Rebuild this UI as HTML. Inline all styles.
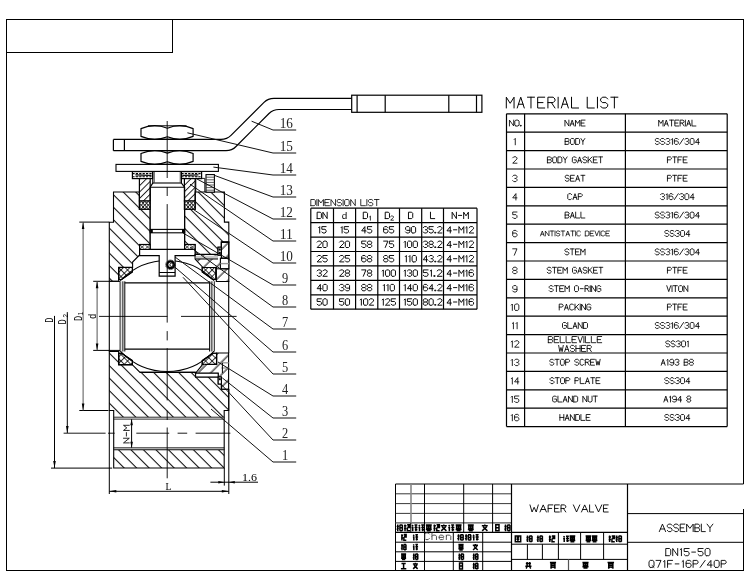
<!DOCTYPE html><html><head><meta charset="utf-8"><style>html,body{margin:0;padding:0;background:#fff;}svg{display:block;will-change:transform}</style></head><body>
<svg width="750" height="584" viewBox="0 0 750 584">
<defs>
<pattern id="hb" patternUnits="userSpaceOnUse" width="8.84" height="20" patternTransform="rotate(-45)"><line x1="4.38" y1="0" x2="4.38" y2="20" stroke="#000" stroke-width="1"/></pattern>
<pattern id="hc" patternUnits="userSpaceOnUse" width="8.84" height="20" patternTransform="rotate(45)"><line x1="6" y1="0" x2="6" y2="20" stroke="#000" stroke-width="1"/></pattern>
<pattern id="hf" patternUnits="userSpaceOnUse" width="4.5" height="20" patternTransform="rotate(45)"><line x1="0.5" y1="0" x2="0.5" y2="20" stroke="#000" stroke-width="0.9"/></pattern>
<pattern id="hx1" patternUnits="userSpaceOnUse" width="4.6" height="20" patternTransform="rotate(45)"><line x1="0.5" y1="0" x2="0.5" y2="20" stroke="#000" stroke-width="0.8"/></pattern>
<pattern id="hx2" patternUnits="userSpaceOnUse" width="4.6" height="20" patternTransform="rotate(-45)"><line x1="0.5" y1="0" x2="0.5" y2="20" stroke="#000" stroke-width="0.8"/></pattern>
<pattern id="pk" patternUnits="userSpaceOnUse" width="3.6" height="3" x="139.4" y="201"><circle cx="1.8" cy="1.5" r="1.25" fill="none" stroke="#000" stroke-width="0.8"/></pattern>
</defs>
<rect x="0" y="0" width="750" height="584" fill="#fff"/>
<g shape-rendering="crispEdges">
<path d="M743.5,484.2 L743.5,19.5 L6.5,19.5 L6.5,570 L743.5,570 L743.5,509" stroke="#000" stroke-width="1" fill="none" />
<path d="M6.5,52.5 L172.5,52.5 L172.5,19.5" stroke="#000" stroke-width="1" fill="none" />
</g>
<g>
<line x1="395.5" y1="484" x2="743.5" y2="484" stroke="#000" stroke-width="1" />
<line x1="395.5" y1="484" x2="395.5" y2="570" stroke="#000" stroke-width="1" />
<line x1="395.5" y1="493.8" x2="511.5" y2="493.8" stroke="#222" stroke-width="0.9" />
<line x1="395.5" y1="503.6" x2="511.5" y2="503.6" stroke="#222" stroke-width="0.9" />
<line x1="395.5" y1="513.4" x2="511.5" y2="513.4" stroke="#222" stroke-width="0.9" />
<line x1="395.5" y1="522.8" x2="511.5" y2="522.8" stroke="#555" stroke-width="1.2" />
<line x1="395.5" y1="532.4" x2="627.5" y2="532.4" stroke="#000" stroke-width="1.2" />
<line x1="395.5" y1="542.2" x2="511.5" y2="542.2" stroke="#000" stroke-width="1" />
<line x1="395.5" y1="551.8" x2="511.5" y2="551.8" stroke="#000" stroke-width="1" />
<line x1="395.5" y1="561.4" x2="511.5" y2="561.4" stroke="#000" stroke-width="1" />
<line x1="411" y1="484" x2="411" y2="522.8" stroke="#888" stroke-width="1.6" />
<line x1="410.8" y1="522.8" x2="410.8" y2="532.4" stroke="#000" stroke-width="1" />
<line x1="424.5" y1="484" x2="424.5" y2="532.4" stroke="#000" stroke-width="1" />
<line x1="463.7" y1="484" x2="463.7" y2="532.4" stroke="#000" stroke-width="1" />
<line x1="492.6" y1="484" x2="492.6" y2="532.4" stroke="#000" stroke-width="1" />
<line x1="424.5" y1="532.4" x2="424.5" y2="570" stroke="#000" stroke-width="1" />
<line x1="453.3" y1="532.4" x2="453.3" y2="570" stroke="#000" stroke-width="1" />
<line x1="482.7" y1="532.4" x2="482.7" y2="570" stroke="#000" stroke-width="1" />
<line x1="511.5" y1="484" x2="511.5" y2="570" stroke="#000" stroke-width="1.2" />
<line x1="627.5" y1="484" x2="627.5" y2="570" stroke="#000" stroke-width="1.2" />
<line x1="511.5" y1="544.2" x2="627.5" y2="544.2" stroke="#000" stroke-width="1" />
<line x1="511.5" y1="559.4" x2="627.5" y2="559.4" stroke="#000" stroke-width="1" />
<line x1="558.4" y1="532.4" x2="558.4" y2="559.4" stroke="#000" stroke-width="1" />
<line x1="580.6" y1="532.4" x2="580.6" y2="559.4" stroke="#000" stroke-width="1" />
<line x1="603.6" y1="532.4" x2="603.6" y2="559.4" stroke="#000" stroke-width="1" />
<line x1="527.4" y1="544.2" x2="527.4" y2="559.4" stroke="#000" stroke-width="1" />
<line x1="542.4" y1="544.2" x2="542.4" y2="559.4" stroke="#000" stroke-width="1" />
<line x1="568.5" y1="559.4" x2="568.5" y2="570" stroke="#555" stroke-width="1.2" />
<line x1="627.5" y1="513.6" x2="743.5" y2="513.6" stroke="#000" stroke-width="1" />
<line x1="627.5" y1="542.3" x2="743.5" y2="542.3" stroke="#000" stroke-width="1" />
</g>
<path d="M530.00,504.90 L532.07,512.00 L534.15,507.27 L536.22,512.00 L538.29,504.90 M540.01,512.00 L543.21,504.90 L546.41,512.00 M541.13,509.51 L545.29,509.51 M552.87,504.90 L548.13,504.90 L548.13,512.00 M548.13,508.45 L551.68,508.45 M559.33,504.90 L554.59,504.90 L554.59,512.00 L559.33,512.00 M554.59,508.45 L558.14,508.45 M561.04,512.00 L561.04,504.90 L564.60,504.90 L565.78,506.08 L565.78,507.27 L564.60,508.45 L561.04,508.45 M563.41,508.45 L565.78,512.00 M573.37,504.90 L576.56,512.00 L579.76,504.90 M581.48,512.00 L584.68,504.90 L587.88,512.00 M582.60,509.51 L586.76,509.51 M589.60,504.90 L589.60,512.00 L593.63,512.00 M595.34,504.90 L598.54,512.00 L601.74,504.90 M608.20,504.90 L603.46,504.90 L603.46,512.00 L608.20,512.00 M603.46,508.45 L607.02,508.45" stroke="#000" stroke-width="0.9" fill="none" stroke-linejoin="round" stroke-linecap="round"/>
<path d="M659.30,531.60 L662.45,524.10 L665.61,531.60 M660.40,528.98 L664.50,528.98 M672.03,525.35 L670.86,524.10 L668.53,524.10 L667.36,525.35 L667.36,526.60 L668.53,527.85 L670.86,527.85 L672.03,529.10 L672.03,530.35 L670.86,531.60 L668.53,531.60 L667.36,530.35 M678.45,525.35 L677.28,524.10 L674.95,524.10 L673.78,525.35 L673.78,526.60 L674.95,527.85 L677.28,527.85 L678.45,529.10 L678.45,530.35 L677.28,531.60 L674.95,531.60 L673.78,530.35 M684.87,524.10 L680.20,524.10 L680.20,531.60 L684.87,531.60 M680.20,527.85 L683.71,527.85 M686.63,531.60 L686.63,524.10 L689.90,528.35 L693.16,524.10 L693.16,531.60 M694.92,531.60 L694.92,524.10 L698.42,524.10 L699.59,525.35 L699.59,526.60 L698.42,527.85 L694.92,527.85 M698.42,527.85 L699.59,529.10 L699.59,530.35 L698.42,531.60 L694.92,531.60 M701.34,524.10 L701.34,531.60 L705.31,531.60 M707.06,524.10 L709.98,527.85 L712.90,524.10 M709.98,527.85 L709.98,531.60" stroke="#000" stroke-width="0.9" fill="none" stroke-linejoin="round" stroke-linecap="round"/>
<path d="M665.75,555.70 L665.75,548.50 L669.48,548.50 L670.73,549.70 L670.73,554.50 L669.48,555.70 L665.75,555.70 M672.72,555.70 L672.72,548.50 L677.70,555.70 L677.70,548.50 M680.18,549.70 L681.43,548.50 L681.43,555.70 M689.14,548.50 L684.17,548.50 L684.17,551.50 L687.90,551.50 L689.14,552.70 L689.14,554.50 L687.90,555.70 L685.41,555.70 L684.17,554.50 M691.76,552.10 L695.49,552.10 M703.08,548.50 L698.10,548.50 L698.10,551.50 L701.84,551.50 L703.08,552.70 L703.08,554.50 L701.84,555.70 L699.35,555.70 L698.10,554.50 M706.32,555.70 L705.07,554.50 L705.07,549.70 L706.32,548.50 L708.81,548.50 L710.05,549.70 L710.05,554.50 L708.81,555.70 L706.32,555.70" stroke="#000" stroke-width="0.9" fill="none" stroke-linejoin="round" stroke-linecap="round"/>
<path d="M650.25,567.40 L649.00,566.23 L649.00,561.57 L650.25,560.40 L652.76,560.40 L654.01,561.57 L654.01,566.23 L652.76,567.40 L650.25,567.40 M652.13,565.65 L654.01,567.40 M656.02,560.40 L661.03,560.40 L657.90,567.40 M663.54,561.57 L664.79,560.40 L664.79,567.40 M672.56,560.40 L667.55,560.40 L667.55,567.40 M667.55,563.90 L671.31,563.90 M675.19,563.90 L678.95,563.90 M682.09,561.57 L683.34,560.40 L683.34,567.40 M691.11,561.57 L689.86,560.40 L687.35,560.40 L686.10,561.57 L686.10,566.23 L687.35,567.40 L689.86,567.40 L691.11,566.23 L691.11,564.48 L689.86,563.32 L686.10,563.32 M693.11,567.40 L693.11,560.40 L696.87,560.40 L698.13,561.57 L698.13,562.73 L696.87,563.90 L693.11,563.90 M700.13,567.40 L705.15,560.40 M710.91,567.40 L710.91,560.40 L707.15,565.07 L712.16,565.07 M715.42,567.40 L714.17,566.23 L714.17,561.57 L715.42,560.40 L717.93,560.40 L719.18,561.57 L719.18,566.23 L717.93,567.40 L715.42,567.40 M721.19,567.40 L721.19,560.40 L724.95,560.40 L726.20,561.57 L726.20,562.73 L724.95,563.90 L721.19,563.90" stroke="#000" stroke-width="0.9" fill="none" stroke-linejoin="round" stroke-linecap="round"/>
<path d="M429.28,534.02 L428.16,532.90 L425.92,532.90 L424.80,534.02 L424.80,538.48 L425.92,539.60 L428.16,539.60 L429.28,538.48 M431.97,532.90 L431.97,539.60 M431.97,536.25 L433.09,535.13 L435.33,535.13 L436.46,536.25 L436.46,539.60 M439.14,537.37 L443.63,537.37 L443.63,536.25 L442.51,535.13 L440.27,535.13 L439.14,536.25 L439.14,538.48 L440.27,539.60 L442.51,539.60 L443.63,538.93 M446.32,535.13 L446.32,539.60 M446.32,536.25 L447.44,535.13 L449.68,535.13 L450.80,536.25 L450.80,539.60" stroke="#333" stroke-width="0.85" fill="none" stroke-linejoin="round" stroke-linecap="round"/>
<path d="M396.63,526.44 H398.94 M397.75,524.40 V531.20 M396.63,529.50 L398.61,528.14 M399.60,524.94 H402.57 M399.93,524.94 V530.86 M402.37,524.94 V530.86 M399.93,527.80 H402.37 M399.93,530.66 H402.37" stroke="#000" stroke-width="1.5" fill="none" stroke-linecap="butt"/>
<path d="M404.03,525.76 H406.47 M405.02,524.40 V531.20 M404.03,528.48 H406.34 M407.13,524.74 H409.97 V527.46 H407.33 M407.33,527.46 V530.86 H410.17 M407.66,526.10 H409.64" stroke="#000" stroke-width="1.5" fill="none" stroke-linecap="butt"/>
<path d="M411.94,525.08 L413.22,526.10 M411.62,527.46 H413.54 M412.71,527.46 V531.20 M414.50,525.08 H417.38 M415.91,524.40 V531.20 M414.50,527.46 H417.57 M414.82,529.84 H417.38" stroke="#000" stroke-width="1.5" fill="none" stroke-linecap="butt"/>
<path d="M418.74,525.08 L420.02,526.10 M418.42,527.46 H420.34 M419.51,527.46 V531.20 M421.30,525.08 H424.18 M422.71,524.40 V531.20 M421.30,527.46 H424.37 M421.62,529.84 H424.18" stroke="#000" stroke-width="1.5" fill="none" stroke-linecap="butt"/>
<path d="M425.83,524.94 H431.77 M426.82,526.10 H430.78 V528.14 H426.82 Z M428.80,524.94 V530.86 M425.83,529.50 H431.77 M426.82,530.86 H430.78" stroke="#000" stroke-width="1.5" fill="none" stroke-linecap="butt"/>
<path d="M433.43,525.76 H435.87 M434.42,524.40 V531.20 M433.43,528.48 H435.74 M436.53,524.74 H439.37 V527.46 H436.73 M436.73,527.46 V530.86 H439.57 M437.06,526.10 H439.04" stroke="#000" stroke-width="1.5" fill="none" stroke-linecap="butt"/>
<path d="M443.80,524.40 V525.42 M440.83,525.76 H446.77 M442.15,526.78 L443.80,528.48 L445.78,526.78 M441.16,530.86 L443.80,528.48 L446.44,530.86" stroke="#000" stroke-width="1.5" fill="none" stroke-linecap="butt"/>
<path d="M448.56,525.08 L449.88,526.10 M448.23,527.46 H450.21 M449.35,527.46 V531.20 M451.20,525.08 H454.17 M452.65,524.40 V531.20 M451.20,527.46 H454.37 M451.53,529.84 H454.17" stroke="#000" stroke-width="1.5" fill="none" stroke-linecap="butt"/>
<path d="M455.63,524.94 H461.57 M456.62,526.10 H460.58 V528.14 H456.62 Z M458.60,524.94 V530.86 M455.63,529.50 H461.57 M456.62,530.86 H460.58" stroke="#000" stroke-width="1.5" fill="none" stroke-linecap="butt"/>
<path d="M467.83,524.94 H473.77 M468.82,526.10 H472.78 V528.14 H468.82 Z M470.80,524.94 V530.86 M467.83,529.50 H473.77 M468.82,530.86 H472.78" stroke="#000" stroke-width="1.5" fill="none" stroke-linecap="butt"/>
<path d="M484.80,524.40 V525.42 M481.83,525.76 H487.77 M483.15,526.78 L484.80,528.48 L486.78,526.78 M482.16,530.86 L484.80,528.48 L487.44,530.86" stroke="#000" stroke-width="1.5" fill="none" stroke-linecap="butt"/>
<path d="M495.80,524.74 H499.00 V530.86 H495.80 Z M495.80,527.80 H499.00" stroke="#000" stroke-width="1.5" fill="none" stroke-linecap="butt"/>
<path d="M504.42,526.44 H506.66 M505.51,524.40 V531.20 M504.42,529.50 L506.34,528.14 M507.30,524.94 H510.18 M507.62,524.94 V530.86 M509.99,524.94 V530.86 M507.62,527.80 H509.99 M507.62,530.66 H509.99" stroke="#000" stroke-width="1.5" fill="none" stroke-linecap="butt"/>
<path d="M401.08,535.48 H403.15 M401.92,534.20 V540.60 M401.08,538.04 H403.04 M403.71,534.52 H406.12 V537.08 H403.88 M403.88,537.08 V540.28 H406.29 M404.16,535.80 H405.84" stroke="#000" stroke-width="1.5" fill="none" stroke-linecap="butt"/>
<path d="M413.16,534.84 L414.28,535.80 M412.88,537.08 H414.56 M413.83,537.08 V540.60 M415.40,534.84 H417.92 M416.63,534.20 V540.60 M415.40,537.08 H418.09 M415.68,539.32 H417.92" stroke="#000" stroke-width="1.5" fill="none" stroke-linecap="butt"/>
<path d="M401.08,545.82 H403.04 M402.03,543.90 V550.30 M401.08,548.70 L402.76,547.42 M403.60,544.41 H406.12 M403.88,544.41 V549.98 M405.95,544.41 V549.98 M403.88,547.10 H405.95 M403.88,549.79 H405.95" stroke="#000" stroke-width="1.5" fill="none" stroke-linecap="butt"/>
<path d="M413.16,544.54 L414.28,545.50 M412.88,546.78 H414.56 M413.83,546.78 V550.30 M415.40,544.54 H417.92 M416.63,543.90 V550.30 M415.40,546.78 H418.09 M415.68,549.02 H417.92" stroke="#000" stroke-width="1.5" fill="none" stroke-linecap="butt"/>
<path d="M401.08,554.01 H406.12 M401.92,555.10 H405.28 V557.02 H401.92 Z M403.60,554.01 V559.58 M401.08,558.30 H406.12 M401.92,559.58 H405.28" stroke="#000" stroke-width="1.5" fill="none" stroke-linecap="butt"/>
<path d="M412.88,555.42 H414.84 M413.83,553.50 V559.90 M412.88,558.30 L414.56,557.02 M415.40,554.01 H417.92 M415.68,554.01 V559.58 M417.75,554.01 V559.58 M415.68,556.70 H417.75 M415.68,559.39 H417.75" stroke="#000" stroke-width="1.5" fill="none" stroke-linecap="butt"/>
<path d="M401.47,563.44 H405.73 M403.60,563.44 V568.56 M400.91,568.69 H406.29" stroke="#000" stroke-width="1.5" fill="none" stroke-linecap="butt"/>
<path d="M415.40,562.80 V563.76 M412.88,564.08 H417.92 M414.00,565.04 L415.40,566.64 L417.08,565.04 M413.16,568.88 L415.40,566.64 L417.64,568.88" stroke="#000" stroke-width="1.5" fill="none" stroke-linecap="butt"/>
<path d="M457.43,536.12 H459.74 M458.55,534.20 V540.60 M457.43,539.00 L459.41,537.72 M460.40,534.71 H463.37 M460.73,534.71 V540.28 M463.17,534.71 V540.28 M460.73,537.40 H463.17 M460.73,540.09 H463.17" stroke="#000" stroke-width="1.5" fill="none" stroke-linecap="butt"/>
<path d="M465.03,536.12 H467.34 M466.15,534.20 V540.60 M465.03,539.00 L467.01,537.72 M468.00,534.71 H470.97 M468.33,534.71 V540.28 M470.77,534.71 V540.28 M468.33,537.40 H470.77 M468.33,540.09 H470.77" stroke="#000" stroke-width="1.5" fill="none" stroke-linecap="butt"/>
<path d="M472.96,534.84 L474.28,535.80 M472.63,537.08 H474.61 M473.75,537.08 V540.60 M475.60,534.84 H478.57 M477.05,534.20 V540.60 M475.60,537.08 H478.77 M475.93,539.32 H478.57" stroke="#000" stroke-width="1.5" fill="none" stroke-linecap="butt"/>
<path d="M458.39,544.41 H463.61 M459.26,545.50 H462.74 V547.42 H459.26 Z M461.00,544.41 V549.98 M458.39,548.70 H463.61 M459.26,549.98 H462.74" stroke="#000" stroke-width="1.5" fill="none" stroke-linecap="butt"/>
<path d="M475.40,543.90 V544.86 M472.79,545.18 H478.01 M473.95,546.14 L475.40,547.74 L477.14,546.14 M473.08,549.98 L475.40,547.74 L477.72,549.98" stroke="#000" stroke-width="1.5" fill="none" stroke-linecap="butt"/>
<path d="M458.39,555.42 H460.42 M459.38,553.50 V559.90 M458.39,558.30 L460.13,557.02 M461.00,554.01 H463.61 M461.29,554.01 V559.58 M463.44,554.01 V559.58 M461.29,556.70 H463.44 M461.29,559.39 H463.44" stroke="#000" stroke-width="1.5" fill="none" stroke-linecap="butt"/>
<path d="M472.79,555.42 H474.82 M473.78,553.50 V559.90 M472.79,558.30 L474.53,557.02 M475.40,554.01 H478.01 M475.69,554.01 V559.58 M477.84,554.01 V559.58 M475.69,556.70 H477.84 M475.69,559.39 H477.84" stroke="#000" stroke-width="1.5" fill="none" stroke-linecap="butt"/>
<path d="M459.55,563.12 H462.45 V568.88 H459.55 Z M459.55,566.00 H462.45" stroke="#000" stroke-width="1.5" fill="none" stroke-linecap="butt"/>
<path d="M472.79,564.72 H474.82 M473.78,562.80 V569.20 M472.79,567.60 L474.53,566.32 M475.40,563.31 H478.01 M475.69,563.31 V568.88 M477.84,563.31 V568.88 M475.69,566.00 H477.84 M475.69,568.69 H477.84" stroke="#000" stroke-width="1.5" fill="none" stroke-linecap="butt"/>
<path d="M515.31,535.92 H520.69 V541.68 H515.31 Z M516.72,537.52 H519.28 M516.72,537.52 L518.96,540.08 M518.96,537.52 L516.72,540.08 M517.36,540.85 H518.64" stroke="#000" stroke-width="1.5" fill="none" stroke-linecap="butt"/>
<path d="M526.42,537.52 H528.66 M527.51,535.60 V542.00 M526.42,540.40 L528.34,539.12 M529.30,536.11 H532.18 M529.62,536.11 V541.68 M531.99,536.11 V541.68 M529.62,538.80 H531.99 M529.62,541.49 H531.99" stroke="#000" stroke-width="1.5" fill="none" stroke-linecap="butt"/>
<path d="M536.82,537.52 H539.06 M537.91,535.60 V542.00 M536.82,540.40 L538.74,539.12 M539.70,536.11 H542.58 M540.02,536.11 V541.68 M542.39,536.11 V541.68 M540.02,538.80 H542.39 M540.02,541.49 H542.39" stroke="#000" stroke-width="1.5" fill="none" stroke-linecap="butt"/>
<path d="M548.82,536.88 H551.19 M549.78,535.60 V542.00 M548.82,539.44 H551.06 M551.83,535.92 H554.58 V538.48 H552.02 M552.02,538.48 V541.68 H554.77 M552.34,537.20 H554.26" stroke="#000" stroke-width="1.5" fill="none" stroke-linecap="butt"/>
<path d="M563.44,536.24 L564.72,537.20 M563.12,538.48 H565.04 M564.21,538.48 V542.00 M566.00,536.24 H568.88 M567.41,535.60 V542.00 M566.00,538.48 H569.07 M566.32,540.72 H568.88" stroke="#000" stroke-width="1.5" fill="none" stroke-linecap="butt"/>
<path d="M569.52,536.11 H575.28 M570.48,537.20 H574.32 V539.12 H570.48 Z M572.40,536.11 V541.68 M569.52,540.40 H575.28 M570.48,541.68 H574.32" stroke="#000" stroke-width="1.5" fill="none" stroke-linecap="butt"/>
<path d="M585.61,536.11 H591.19 M586.54,537.20 H590.26 V539.12 H586.54 Z M588.40,536.11 V541.68 M585.61,540.40 H591.19 M586.54,541.68 H590.26" stroke="#000" stroke-width="1.5" fill="none" stroke-linecap="butt"/>
<path d="M591.81,536.11 H597.39 M592.74,537.20 H596.46 V539.12 H592.74 Z M594.60,536.11 V541.68 M591.81,540.40 H597.39 M592.74,541.68 H596.46" stroke="#000" stroke-width="1.5" fill="none" stroke-linecap="butt"/>
<path d="M608.63,536.88 H611.07 M609.62,535.60 V542.00 M608.63,539.44 H610.94 M611.73,535.92 H614.57 V538.48 H611.93 M611.93,538.48 V541.68 H614.77 M612.26,537.20 H614.24" stroke="#000" stroke-width="1.5" fill="none" stroke-linecap="butt"/>
<path d="M615.63,537.52 H617.94 M616.75,535.60 V542.00 M615.63,540.40 L617.61,539.12 M618.60,536.11 H621.57 M618.93,536.11 V541.68 M621.37,536.11 V541.68 M618.93,538.80 H621.37 M618.93,541.49 H621.37" stroke="#000" stroke-width="1.5" fill="none" stroke-linecap="butt"/>
<path d="M527.12,562.00 V566.16 M529.68,562.00 V566.16 M525.84,563.60 H530.96 M525.33,566.16 H531.47 M527.12,567.12 L525.97,568.40 M529.68,567.12 L530.83,568.40" stroke="#000" stroke-width="1.5" fill="none" stroke-linecap="butt"/>
<path d="M549.93,562.38 H556.07 M553.00,562.38 V563.60 M551.08,563.60 H554.92 V566.99 H551.08 Z M551.08,565.20 H554.92 M552.36,567.12 L550.44,568.40 M553.64,567.12 L555.56,568.40" stroke="#000" stroke-width="1.5" fill="none" stroke-linecap="butt"/>
<path d="M582.44,562.51 H588.56 M583.46,563.60 H587.54 V565.52 H583.46 Z M585.50,562.51 V568.08 M582.44,566.80 H588.56 M583.46,568.08 H587.54" stroke="#000" stroke-width="1.5" fill="none" stroke-linecap="butt"/>
<path d="M607.54,562.38 H614.06 M610.80,562.38 V563.60 M608.76,563.60 H612.84 V566.99 H608.76 Z M608.76,565.20 H612.84 M610.12,567.12 L608.08,568.40 M611.48,567.12 L613.52,568.40" stroke="#000" stroke-width="1.5" fill="none" stroke-linecap="butt"/>
<path d="M506.30,108.00 L506.30,97.20 L510.18,103.32 L514.06,97.20 L514.06,108.00 M517.23,108.00 L520.76,97.20 L524.28,108.00 M518.46,104.22 L523.05,104.22 M527.46,97.20 L534.51,97.20 M530.98,97.20 L530.98,108.00 M544.73,97.20 L537.68,97.20 L537.68,108.00 L544.73,108.00 M537.68,102.60 L542.97,102.60 M547.91,108.00 L547.91,97.20 L553.20,97.20 L554.96,99.00 L554.96,100.80 L553.20,102.60 L547.91,102.60 M551.43,102.60 L554.96,108.00 M558.13,97.20 L558.13,108.00 M561.31,108.00 L564.83,97.20 L568.36,108.00 M562.54,104.22 L567.12,104.22 M571.53,97.20 L571.53,108.00 L578.58,108.00 M587.22,97.20 L587.22,108.00 L594.28,108.00 M597.45,97.20 L597.45,108.00 M607.67,99.00 L605.91,97.20 L602.39,97.20 L600.62,99.00 L600.62,100.80 L602.39,102.60 L605.91,102.60 L607.67,104.40 L607.67,106.20 L605.91,108.00 L602.39,108.00 L600.62,106.20 M610.85,97.20 L617.90,97.20 M614.37,97.20 L614.37,108.00" stroke="#000" stroke-width="1.0" fill="none" stroke-linejoin="round" stroke-linecap="round"/>
<g>
<line x1="506.5" y1="113.8" x2="727.2" y2="113.8" stroke="#000" stroke-width="1.2" />
<line x1="506.5" y1="132.2" x2="727.2" y2="132.2" stroke="#000" stroke-width="1.2" />
<line x1="506.5" y1="150.6" x2="727.2" y2="150.6" stroke="#000" stroke-width="1.2" />
<line x1="506.5" y1="169.0" x2="727.2" y2="169.0" stroke="#000" stroke-width="1.2" />
<line x1="506.5" y1="187.4" x2="727.2" y2="187.4" stroke="#000" stroke-width="1.2" />
<line x1="506.5" y1="205.8" x2="727.2" y2="205.8" stroke="#000" stroke-width="1.2" />
<line x1="506.5" y1="224.2" x2="727.2" y2="224.2" stroke="#000" stroke-width="1.2" />
<line x1="506.5" y1="242.6" x2="727.2" y2="242.6" stroke="#000" stroke-width="1.2" />
<line x1="506.5" y1="261.0" x2="727.2" y2="261.0" stroke="#000" stroke-width="1.2" />
<line x1="506.5" y1="279.4" x2="727.2" y2="279.4" stroke="#000" stroke-width="1.2" />
<line x1="506.5" y1="297.8" x2="727.2" y2="297.8" stroke="#000" stroke-width="1.2" />
<line x1="506.5" y1="316.2" x2="727.2" y2="316.2" stroke="#000" stroke-width="1.2" />
<line x1="506.5" y1="334.6" x2="727.2" y2="334.6" stroke="#000" stroke-width="1.2" />
<line x1="506.5" y1="353.0" x2="727.2" y2="353.0" stroke="#000" stroke-width="1.2" />
<line x1="506.5" y1="371.4" x2="727.2" y2="371.4" stroke="#000" stroke-width="1.2" />
<line x1="506.5" y1="389.8" x2="727.2" y2="389.8" stroke="#000" stroke-width="1.2" />
<line x1="506.5" y1="408.2" x2="727.2" y2="408.2" stroke="#000" stroke-width="1.2" />
<line x1="506.5" y1="426.6" x2="727.2" y2="426.6" stroke="#000" stroke-width="1.2" />
<line x1="506.5" y1="113.8" x2="506.5" y2="426.6" stroke="#000" stroke-width="1.2" />
<line x1="524.6" y1="113.8" x2="524.6" y2="426.6" stroke="#000" stroke-width="1.2" />
<line x1="625.4" y1="113.8" x2="625.4" y2="426.6" stroke="#000" stroke-width="1.2" />
<line x1="727.2" y1="113.8" x2="727.2" y2="426.6" stroke="#000" stroke-width="1.2" />
</g>
<path d="M509.45,126.00 L509.45,120.10 L513.73,126.00 L513.73,120.10 M515.87,126.00 L514.80,125.02 L514.80,121.08 L515.87,120.10 L518.01,120.10 L519.08,121.08 L519.08,125.02 L518.01,126.00 L515.87,126.00 M520.47,126.00 L521.33,126.00 L521.33,125.41 L520.47,125.41 Z" stroke="#000" stroke-width="0.85" fill="none" stroke-linejoin="round" stroke-linecap="round"/>
<path d="M564.95,126.00 L564.95,120.10 L568.88,126.00 L568.88,120.10 M570.21,126.00 L572.17,120.10 L574.14,126.00 M570.89,123.94 L573.45,123.94 M575.47,126.00 L575.47,120.10 L577.63,123.44 L579.79,120.10 L579.79,126.00 M585.05,120.10 L581.12,120.10 L581.12,126.00 L585.05,126.00 M581.12,123.05 L584.07,123.05" stroke="#000" stroke-width="0.85" fill="none" stroke-linejoin="round" stroke-linecap="round"/>
<path d="M658.69,126.00 L658.69,120.10 L660.85,123.44 L663.02,120.10 L663.02,126.00 M664.34,126.00 L666.31,120.10 L668.28,126.00 M665.03,123.94 L667.59,123.94 M669.61,120.10 L673.54,120.10 M671.57,120.10 L671.57,126.00 M678.80,120.10 L674.87,120.10 L674.87,126.00 L678.80,126.00 M674.87,123.05 L677.82,123.05 M680.13,126.00 L680.13,120.10 L683.08,120.10 L684.06,121.08 L684.06,122.07 L683.08,123.05 L680.13,123.05 M682.09,123.05 L684.06,126.00 M685.39,120.10 L685.39,126.00 M686.72,126.00 L688.68,120.10 L690.65,126.00 M687.40,123.94 L689.96,123.94 M691.98,120.10 L691.98,126.00 L695.91,126.00" stroke="#000" stroke-width="0.85" fill="none" stroke-linejoin="round" stroke-linecap="round"/>
<path d="M514.21,139.47 L515.28,138.40 L515.28,144.80" stroke="#000" stroke-width="0.85" fill="none" stroke-linejoin="round" stroke-linecap="round"/>
<path d="M565.14,144.40 L565.14,138.50 L568.09,138.50 L569.08,139.48 L569.08,140.47 L568.09,141.45 L565.14,141.45 M568.09,141.45 L569.08,142.43 L569.08,143.42 L568.09,144.40 L565.14,144.40 M571.39,144.40 L570.40,143.42 L570.40,139.48 L571.39,138.50 L573.35,138.50 L574.34,139.48 L574.34,143.42 L573.35,144.40 L571.39,144.40 M575.66,144.40 L575.66,138.50 L578.61,138.50 L579.60,139.48 L579.60,143.42 L578.61,144.40 L575.66,144.40 M580.92,138.50 L582.89,141.45 L584.86,138.50 M582.89,141.45 L582.89,144.40" stroke="#000" stroke-width="0.85" fill="none" stroke-linejoin="round" stroke-linecap="round"/>
<path d="M659.21,139.48 L658.22,138.50 L656.26,138.50 L655.27,139.48 L655.27,140.47 L656.26,141.45 L658.22,141.45 L659.21,142.43 L659.21,143.42 L658.22,144.40 L656.26,144.40 L655.27,143.42 M664.47,139.48 L663.48,138.50 L661.52,138.50 L660.53,139.48 L660.53,140.47 L661.52,141.45 L663.48,141.45 L664.47,142.43 L664.47,143.42 L663.48,144.40 L661.52,144.40 L660.53,143.42 M665.79,139.48 L666.78,138.50 L668.75,138.50 L669.73,139.48 L669.73,140.47 L668.75,141.45 L667.76,141.45 M668.75,141.45 L669.73,142.43 L669.73,143.42 L668.75,144.40 L666.78,144.40 L665.79,143.42 M671.45,139.48 L672.43,138.50 L672.43,144.40 M678.28,139.48 L677.30,138.50 L675.33,138.50 L674.35,139.48 L674.35,143.42 L675.33,144.40 L677.30,144.40 L678.28,143.42 L678.28,141.94 L677.30,140.96 L674.35,140.96 M679.61,144.40 L683.54,138.50 M684.87,139.48 L685.86,138.50 L687.82,138.50 L688.80,139.48 L688.80,140.47 L687.82,141.45 L686.84,141.45 M687.82,141.45 L688.80,142.43 L688.80,143.42 L687.82,144.40 L685.86,144.40 L684.87,143.42 M691.12,144.40 L690.13,143.42 L690.13,139.48 L691.12,138.50 L693.08,138.50 L694.07,139.48 L694.07,143.42 L693.08,144.40 L691.12,144.40 M698.34,144.40 L698.34,138.50 L695.39,142.43 L699.33,142.43" stroke="#000" stroke-width="0.85" fill="none" stroke-linejoin="round" stroke-linecap="round"/>
<path d="M512.72,157.87 L513.78,156.80 L515.92,156.80 L516.98,157.87 L516.98,158.93 L512.72,163.20 L516.98,163.20" stroke="#000" stroke-width="0.85" fill="none" stroke-linejoin="round" stroke-linecap="round"/>
<path d="M547.42,162.80 L547.42,156.90 L550.37,156.90 L551.35,157.88 L551.35,158.87 L550.37,159.85 L547.42,159.85 M550.37,159.85 L551.35,160.83 L551.35,161.82 L550.37,162.80 L547.42,162.80 M553.66,162.80 L552.68,161.82 L552.68,157.88 L553.66,156.90 L555.63,156.90 L556.61,157.88 L556.61,161.82 L555.63,162.80 L553.66,162.80 M557.94,162.80 L557.94,156.90 L560.89,156.90 L561.87,157.88 L561.87,161.82 L560.89,162.80 L557.94,162.80 M563.20,156.90 L565.17,159.85 L567.13,156.90 M565.17,159.85 L565.17,162.80 M576.28,157.88 L575.30,156.90 L573.33,156.90 L572.35,157.88 L572.35,161.82 L573.33,162.80 L575.30,162.80 L576.28,161.82 L576.28,159.85 L574.31,159.85 M577.61,162.80 L579.57,156.90 L581.54,162.80 M578.29,160.74 L580.85,160.74 M586.80,157.88 L585.82,156.90 L583.85,156.90 L582.87,157.88 L582.87,158.87 L583.85,159.85 L585.82,159.85 L586.80,160.83 L586.80,161.82 L585.82,162.80 L583.85,162.80 L582.87,161.82 M588.13,162.80 L588.13,156.90 M592.06,156.90 L588.13,160.83 M589.50,159.46 L592.06,162.80 M597.32,156.90 L593.39,156.90 L593.39,162.80 L597.32,162.80 M593.39,159.85 L596.34,159.85 M598.65,156.90 L602.58,156.90 M600.62,156.90 L600.62,162.80" stroke="#000" stroke-width="0.85" fill="none" stroke-linejoin="round" stroke-linecap="round"/>
<path d="M667.44,162.80 L667.44,156.90 L670.39,156.90 L671.38,157.88 L671.38,158.87 L670.39,159.85 L667.44,159.85 M672.70,156.90 L676.64,156.90 M674.67,156.90 L674.67,162.80 M681.90,156.90 L677.96,156.90 L677.96,162.80 M677.96,159.85 L680.91,159.85 M687.16,156.90 L683.22,156.90 L683.22,162.80 L687.16,162.80 M683.22,159.85 L686.17,159.85" stroke="#000" stroke-width="0.85" fill="none" stroke-linejoin="round" stroke-linecap="round"/>
<path d="M512.72,176.27 L513.78,175.20 L515.92,175.20 L516.98,176.27 L516.98,177.33 L515.92,178.40 L514.85,178.40 M515.92,178.40 L516.98,179.47 L516.98,180.53 L515.92,181.60 L513.78,181.60 L512.72,180.53" stroke="#000" stroke-width="0.85" fill="none" stroke-linejoin="round" stroke-linecap="round"/>
<path d="M569.08,176.28 L568.09,175.30 L566.13,175.30 L565.14,176.28 L565.14,177.27 L566.13,178.25 L568.09,178.25 L569.08,179.23 L569.08,180.22 L568.09,181.20 L566.13,181.20 L565.14,180.22 M574.34,175.30 L570.40,175.30 L570.40,181.20 L574.34,181.20 M570.40,178.25 L573.35,178.25 M575.66,181.20 L577.63,175.30 L579.60,181.20 M576.35,179.13 L578.91,179.13 M580.92,175.30 L584.86,175.30 M582.89,175.30 L582.89,181.20" stroke="#000" stroke-width="0.85" fill="none" stroke-linejoin="round" stroke-linecap="round"/>
<path d="M667.44,181.20 L667.44,175.30 L670.39,175.30 L671.38,176.28 L671.38,177.27 L670.39,178.25 L667.44,178.25 M672.70,175.30 L676.64,175.30 M674.67,175.30 L674.67,181.20 M681.90,175.30 L677.96,175.30 L677.96,181.20 M677.96,178.25 L680.91,178.25 M687.16,175.30 L683.22,175.30 L683.22,181.20 L687.16,181.20 M683.22,178.25 L686.17,178.25" stroke="#000" stroke-width="0.85" fill="none" stroke-linejoin="round" stroke-linecap="round"/>
<path d="M515.92,200.00 L515.92,193.60 L512.72,197.87 L516.98,197.87" stroke="#000" stroke-width="0.85" fill="none" stroke-linejoin="round" stroke-linecap="round"/>
<path d="M571.71,194.68 L570.72,193.70 L568.76,193.70 L567.77,194.68 L567.77,198.62 L568.76,199.60 L570.72,199.60 L571.71,198.62 M573.03,199.60 L575.00,193.70 L576.97,199.60 M573.72,197.53 L576.28,197.53 M578.29,199.60 L578.29,193.70 L581.24,193.70 L582.23,194.68 L582.23,195.67 L581.24,196.65 L578.29,196.65" stroke="#000" stroke-width="0.85" fill="none" stroke-linejoin="round" stroke-linecap="round"/>
<path d="M660.53,194.68 L661.52,193.70 L663.48,193.70 L664.47,194.68 L664.47,195.67 L663.48,196.65 L662.50,196.65 M663.48,196.65 L664.47,197.63 L664.47,198.62 L663.48,199.60 L661.52,199.60 L660.53,198.62 M666.19,194.68 L667.17,193.70 L667.17,199.60 M673.02,194.68 L672.04,193.70 L670.07,193.70 L669.09,194.68 L669.09,198.62 L670.07,199.60 L672.04,199.60 L673.02,198.62 L673.02,197.14 L672.04,196.16 L669.09,196.16 M674.35,199.60 L678.28,193.70 M679.61,194.68 L680.59,193.70 L682.56,193.70 L683.54,194.68 L683.54,195.67 L682.56,196.65 L681.58,196.65 M682.56,196.65 L683.54,197.63 L683.54,198.62 L682.56,199.60 L680.59,199.60 L679.61,198.62 M685.85,199.60 L684.87,198.62 L684.87,194.68 L685.85,193.70 L687.82,193.70 L688.80,194.68 L688.80,198.62 L687.82,199.60 L685.85,199.60 M693.08,199.60 L693.08,193.70 L690.13,197.63 L694.07,197.63" stroke="#000" stroke-width="0.85" fill="none" stroke-linejoin="round" stroke-linecap="round"/>
<path d="M516.98,212.00 L512.72,212.00 L512.72,214.67 L515.92,214.67 L516.98,215.73 L516.98,217.33 L515.92,218.40 L513.78,218.40 L512.72,217.33" stroke="#000" stroke-width="0.85" fill="none" stroke-linejoin="round" stroke-linecap="round"/>
<path d="M565.14,218.00 L565.14,212.10 L568.09,212.10 L569.08,213.08 L569.08,214.07 L568.09,215.05 L565.14,215.05 M568.09,215.05 L569.08,216.03 L569.08,217.02 L568.09,218.00 L565.14,218.00 M570.40,218.00 L572.37,212.10 L574.34,218.00 M571.09,215.94 L573.65,215.94 M575.66,212.10 L575.66,218.00 L579.60,218.00 M580.92,212.10 L580.92,218.00 L584.86,218.00" stroke="#000" stroke-width="0.85" fill="none" stroke-linejoin="round" stroke-linecap="round"/>
<path d="M659.21,213.08 L658.22,212.10 L656.26,212.10 L655.27,213.08 L655.27,214.07 L656.26,215.05 L658.22,215.05 L659.21,216.03 L659.21,217.02 L658.22,218.00 L656.26,218.00 L655.27,217.02 M664.47,213.08 L663.48,212.10 L661.52,212.10 L660.53,213.08 L660.53,214.07 L661.52,215.05 L663.48,215.05 L664.47,216.03 L664.47,217.02 L663.48,218.00 L661.52,218.00 L660.53,217.02 M665.79,213.08 L666.78,212.10 L668.75,212.10 L669.73,213.08 L669.73,214.07 L668.75,215.05 L667.76,215.05 M668.75,215.05 L669.73,216.03 L669.73,217.02 L668.75,218.00 L666.78,218.00 L665.79,217.02 M671.45,213.08 L672.43,212.10 L672.43,218.00 M678.28,213.08 L677.30,212.10 L675.33,212.10 L674.35,213.08 L674.35,217.02 L675.33,218.00 L677.30,218.00 L678.28,217.02 L678.28,215.54 L677.30,214.56 L674.35,214.56 M679.61,218.00 L683.54,212.10 M684.87,213.08 L685.86,212.10 L687.82,212.10 L688.80,213.08 L688.80,214.07 L687.82,215.05 L686.84,215.05 M687.82,215.05 L688.80,216.03 L688.80,217.02 L687.82,218.00 L685.86,218.00 L684.87,217.02 M691.12,218.00 L690.13,217.02 L690.13,213.08 L691.12,212.10 L693.08,212.10 L694.07,213.08 L694.07,217.02 L693.08,218.00 L691.12,218.00 M698.34,218.00 L698.34,212.10 L695.39,216.03 L699.33,216.03" stroke="#000" stroke-width="0.85" fill="none" stroke-linejoin="round" stroke-linecap="round"/>
<path d="M516.98,231.47 L515.92,230.40 L513.78,230.40 L512.72,231.47 L512.72,235.73 L513.78,236.80 L515.92,236.80 L516.98,235.73 L516.98,234.13 L515.92,233.07 L512.72,233.07" stroke="#000" stroke-width="0.85" fill="none" stroke-linejoin="round" stroke-linecap="round"/>
<path d="M540.50,235.90 L542.31,231.00 L544.12,235.90 M541.13,234.19 L543.49,234.19 M545.34,235.90 L545.34,231.00 L548.97,235.90 L548.97,231.00 M550.19,231.00 L553.81,231.00 M552.00,231.00 L552.00,235.90 M555.03,231.00 L555.03,235.90 M559.88,231.82 L558.97,231.00 L557.16,231.00 L556.26,231.82 L556.26,232.63 L557.16,233.45 L558.97,233.45 L559.88,234.27 L559.88,235.08 L558.97,235.90 L557.16,235.90 L556.26,235.08 M561.10,231.00 L564.72,231.00 M562.91,231.00 L562.91,235.90 M565.94,235.90 L567.76,231.00 L569.57,235.90 M566.58,234.19 L568.93,234.19 M570.79,231.00 L574.41,231.00 M572.60,231.00 L572.60,235.90 M575.63,231.00 L575.63,235.90 M580.48,231.82 L579.57,231.00 L577.76,231.00 L576.86,231.82 L576.86,235.08 L577.76,235.90 L579.57,235.90 L580.48,235.08 M585.28,235.90 L585.28,231.00 L587.99,231.00 L588.90,231.82 L588.90,235.08 L587.99,235.90 L585.28,235.90 M593.74,231.00 L590.12,231.00 L590.12,235.90 L593.74,235.90 M590.12,233.45 L592.84,233.45 M594.97,231.00 L596.78,235.90 L598.59,231.00 M599.81,231.00 L599.81,235.90 M604.66,231.82 L603.75,231.00 L601.94,231.00 L601.03,231.82 L601.03,235.08 L601.94,235.90 L603.75,235.90 L604.66,235.08 M609.50,231.00 L605.88,231.00 L605.88,235.90 L609.50,235.90 M605.88,233.45 L608.59,233.45" stroke="#000" stroke-width="0.75" fill="none" stroke-linejoin="round" stroke-linecap="round"/>
<path d="M668.74,231.48 L667.76,230.50 L665.79,230.50 L664.81,231.48 L664.81,232.47 L665.79,233.45 L667.76,233.45 L668.74,234.43 L668.74,235.42 L667.76,236.40 L665.79,236.40 L664.81,235.42 M674.01,231.48 L673.02,230.50 L671.06,230.50 L670.07,231.48 L670.07,232.47 L671.06,233.45 L673.02,233.45 L674.01,234.43 L674.01,235.42 L673.02,236.40 L671.06,236.40 L670.07,235.42 M675.33,231.48 L676.32,230.50 L678.28,230.50 L679.27,231.48 L679.27,232.47 L678.28,233.45 L677.30,233.45 M678.28,233.45 L679.27,234.43 L679.27,235.42 L678.28,236.40 L676.32,236.40 L675.33,235.42 M681.58,236.40 L680.59,235.42 L680.59,231.48 L681.58,230.50 L683.54,230.50 L684.53,231.48 L684.53,235.42 L683.54,236.40 L681.58,236.40 M688.80,236.40 L688.80,230.50 L685.85,234.43 L689.79,234.43" stroke="#000" stroke-width="0.85" fill="none" stroke-linejoin="round" stroke-linecap="round"/>
<path d="M512.72,248.80 L516.98,248.80 L514.32,255.20" stroke="#000" stroke-width="0.85" fill="none" stroke-linejoin="round" stroke-linecap="round"/>
<path d="M568.88,249.88 L567.90,248.90 L565.93,248.90 L564.95,249.88 L564.95,250.87 L565.93,251.85 L567.90,251.85 L568.88,252.83 L568.88,253.82 L567.90,254.80 L565.93,254.80 L564.95,253.82 M570.21,248.90 L574.14,248.90 M572.17,248.90 L572.17,254.80 M579.40,248.90 L575.47,248.90 L575.47,254.80 L579.40,254.80 M575.47,251.85 L578.42,251.85 M580.73,254.80 L580.73,248.90 L582.89,252.24 L585.05,248.90 L585.05,254.80" stroke="#000" stroke-width="0.85" fill="none" stroke-linejoin="round" stroke-linecap="round"/>
<path d="M659.21,249.88 L658.22,248.90 L656.26,248.90 L655.27,249.88 L655.27,250.87 L656.26,251.85 L658.22,251.85 L659.21,252.83 L659.21,253.82 L658.22,254.80 L656.26,254.80 L655.27,253.82 M664.47,249.88 L663.48,248.90 L661.52,248.90 L660.53,249.88 L660.53,250.87 L661.52,251.85 L663.48,251.85 L664.47,252.83 L664.47,253.82 L663.48,254.80 L661.52,254.80 L660.53,253.82 M665.79,249.88 L666.78,248.90 L668.75,248.90 L669.73,249.88 L669.73,250.87 L668.75,251.85 L667.76,251.85 M668.75,251.85 L669.73,252.83 L669.73,253.82 L668.75,254.80 L666.78,254.80 L665.79,253.82 M671.45,249.88 L672.43,248.90 L672.43,254.80 M678.28,249.88 L677.30,248.90 L675.33,248.90 L674.35,249.88 L674.35,253.82 L675.33,254.80 L677.30,254.80 L678.28,253.82 L678.28,252.34 L677.30,251.36 L674.35,251.36 M679.61,254.80 L683.54,248.90 M684.87,249.88 L685.86,248.90 L687.82,248.90 L688.80,249.88 L688.80,250.87 L687.82,251.85 L686.84,251.85 M687.82,251.85 L688.80,252.83 L688.80,253.82 L687.82,254.80 L685.86,254.80 L684.87,253.82 M691.12,254.80 L690.13,253.82 L690.13,249.88 L691.12,248.90 L693.08,248.90 L694.07,249.88 L694.07,253.82 L693.08,254.80 L691.12,254.80 M698.34,254.80 L698.34,248.90 L695.39,252.83 L699.33,252.83" stroke="#000" stroke-width="0.85" fill="none" stroke-linejoin="round" stroke-linecap="round"/>
<path d="M513.78,270.40 L512.72,269.33 L512.72,268.27 L513.78,267.20 L515.92,267.20 L516.98,268.27 L516.98,269.33 L515.92,270.40 L513.78,270.40 L512.72,271.47 L512.72,272.53 L513.78,273.60 L515.92,273.60 L516.98,272.53 L516.98,271.47 L515.92,270.40" stroke="#000" stroke-width="0.85" fill="none" stroke-linejoin="round" stroke-linecap="round"/>
<path d="M551.15,268.28 L550.17,267.30 L548.20,267.30 L547.22,268.28 L547.22,269.27 L548.20,270.25 L550.17,270.25 L551.15,271.23 L551.15,272.22 L550.17,273.20 L548.20,273.20 L547.22,272.22 M552.48,267.30 L556.41,267.30 M554.45,267.30 L554.45,273.20 M561.68,267.30 L557.74,267.30 L557.74,273.20 L561.68,273.20 M557.74,270.25 L560.69,270.25 M563.00,273.20 L563.00,267.30 L565.17,270.64 L567.33,267.30 L567.33,273.20 M576.48,268.28 L575.49,267.30 L573.52,267.30 L572.54,268.28 L572.54,272.22 L573.52,273.20 L575.49,273.20 L576.48,272.22 L576.48,270.25 L574.51,270.25 M577.80,273.20 L579.77,267.30 L581.74,273.20 M578.49,271.13 L581.05,271.13 M587.00,268.28 L586.01,267.30 L584.05,267.30 L583.06,268.28 L583.06,269.27 L584.05,270.25 L586.01,270.25 L587.00,271.23 L587.00,272.22 L586.01,273.20 L584.05,273.20 L583.06,272.22 M588.32,273.20 L588.32,267.30 M592.26,267.30 L588.32,271.23 M589.70,269.86 L592.26,273.20 M597.52,267.30 L593.58,267.30 L593.58,273.20 L597.52,273.20 M593.58,270.25 L596.53,270.25 M598.85,267.30 L602.78,267.30 M600.81,267.30 L600.81,273.20" stroke="#000" stroke-width="0.85" fill="none" stroke-linejoin="round" stroke-linecap="round"/>
<path d="M667.44,273.20 L667.44,267.30 L670.39,267.30 L671.38,268.28 L671.38,269.27 L670.39,270.25 L667.44,270.25 M672.70,267.30 L676.64,267.30 M674.67,267.30 L674.67,273.20 M681.90,267.30 L677.96,267.30 L677.96,273.20 M677.96,270.25 L680.91,270.25 M687.16,267.30 L683.22,267.30 L683.22,273.20 L687.16,273.20 M683.22,270.25 L686.17,270.25" stroke="#000" stroke-width="0.85" fill="none" stroke-linejoin="round" stroke-linecap="round"/>
<path d="M512.72,290.93 L513.78,292.00 L515.92,292.00 L516.98,290.93 L516.98,286.67 L515.92,285.60 L513.78,285.60 L512.72,286.67 L512.72,288.27 L513.78,289.33 L516.98,289.33" stroke="#000" stroke-width="0.85" fill="none" stroke-linejoin="round" stroke-linecap="round"/>
<path d="M553.12,286.68 L552.14,285.70 L550.17,285.70 L549.19,286.68 L549.19,287.67 L550.17,288.65 L552.14,288.65 L553.12,289.63 L553.12,290.62 L552.14,291.60 L550.17,291.60 L549.19,290.62 M554.45,285.70 L558.38,285.70 M556.41,285.70 L556.41,291.60 M563.64,285.70 L559.71,285.70 L559.71,291.60 L563.64,291.60 M559.71,288.65 L562.66,288.65 M564.97,291.60 L564.97,285.70 L567.13,289.04 L569.30,285.70 L569.30,291.60 M575.49,291.60 L574.51,290.62 L574.51,286.68 L575.49,285.70 L577.46,285.70 L578.44,286.68 L578.44,290.62 L577.46,291.60 L575.49,291.60 M580.26,288.65 L583.21,288.65 M585.03,291.60 L585.03,285.70 L587.98,285.70 L588.96,286.68 L588.96,287.67 L587.98,288.65 L585.03,288.65 M587.00,288.65 L588.96,291.60 M590.29,285.70 L590.29,291.60 M591.62,291.60 L591.62,285.70 L595.55,291.60 L595.55,285.70 M600.81,286.68 L599.83,285.70 L597.86,285.70 L596.88,286.68 L596.88,290.62 L597.86,291.60 L599.83,291.60 L600.81,290.62 L600.81,288.65 L598.85,288.65" stroke="#000" stroke-width="0.85" fill="none" stroke-linejoin="round" stroke-linecap="round"/>
<path d="M666.78,285.70 L668.75,291.60 L670.71,285.70 M672.04,285.70 L672.04,291.60 M673.37,285.70 L677.30,285.70 M675.33,285.70 L675.33,291.60 M679.61,291.60 L678.63,290.62 L678.63,286.68 L679.61,285.70 L681.58,285.70 L682.56,286.68 L682.56,290.62 L681.58,291.60 L679.61,291.60 M683.89,291.60 L683.89,285.70 L687.82,291.60 L687.82,285.70" stroke="#000" stroke-width="0.85" fill="none" stroke-linejoin="round" stroke-linecap="round"/>
<path d="M511.28,305.07 L512.34,304.00 L512.34,310.40 M515.65,310.40 L514.58,309.33 L514.58,305.07 L515.65,304.00 L517.78,304.00 L518.85,305.07 L518.85,309.33 L517.78,310.40 L515.65,310.40" stroke="#000" stroke-width="0.85" fill="none" stroke-linejoin="round" stroke-linecap="round"/>
<path d="M559.22,310.00 L559.22,304.10 L562.17,304.10 L563.15,305.08 L563.15,306.07 L562.17,307.05 L559.22,307.05 M564.48,310.00 L566.44,304.10 L568.41,310.00 M565.17,307.94 L567.72,307.94 M573.67,305.08 L572.69,304.10 L570.72,304.10 L569.74,305.08 L569.74,309.02 L570.72,310.00 L572.69,310.00 L573.67,309.02 M575.00,310.00 L575.00,304.10 M578.93,304.10 L575.00,308.03 M576.38,306.66 L578.93,310.00 M580.26,304.10 L580.26,310.00 M581.59,310.00 L581.59,304.10 L585.52,310.00 L585.52,304.10 M590.78,305.08 L589.80,304.10 L587.83,304.10 L586.85,305.08 L586.85,309.02 L587.83,310.00 L589.80,310.00 L590.78,309.02 L590.78,307.05 L588.82,307.05" stroke="#000" stroke-width="0.85" fill="none" stroke-linejoin="round" stroke-linecap="round"/>
<path d="M667.44,310.00 L667.44,304.10 L670.39,304.10 L671.38,305.08 L671.38,306.07 L670.39,307.05 L667.44,307.05 M672.70,304.10 L676.64,304.10 M674.67,304.10 L674.67,310.00 M681.90,304.10 L677.96,304.10 L677.96,310.00 M677.96,307.05 L680.91,307.05 M687.16,304.10 L683.22,304.10 L683.22,310.00 L687.16,310.00 M683.22,307.05 L686.17,307.05" stroke="#000" stroke-width="0.85" fill="none" stroke-linejoin="round" stroke-linecap="round"/>
<path d="M512.34,323.47 L513.41,322.40 L513.41,328.80 M516.08,323.47 L517.14,322.40 L517.14,328.80" stroke="#000" stroke-width="0.85" fill="none" stroke-linejoin="round" stroke-linecap="round"/>
<path d="M566.44,323.48 L565.46,322.50 L563.50,322.50 L562.51,323.48 L562.51,327.42 L563.50,328.40 L565.46,328.40 L566.44,327.42 L566.44,325.45 L564.48,325.45 M567.77,322.50 L567.77,328.40 L571.71,328.40 M573.03,328.40 L575.00,322.50 L576.97,328.40 M573.72,326.33 L576.28,326.33 M578.29,328.40 L578.29,322.50 L582.23,328.40 L582.23,322.50 M583.55,328.40 L583.55,322.50 L586.50,322.50 L587.49,323.48 L587.49,327.42 L586.50,328.40 L583.55,328.40" stroke="#000" stroke-width="0.85" fill="none" stroke-linejoin="round" stroke-linecap="round"/>
<path d="M659.21,323.48 L658.22,322.50 L656.26,322.50 L655.27,323.48 L655.27,324.47 L656.26,325.45 L658.22,325.45 L659.21,326.43 L659.21,327.42 L658.22,328.40 L656.26,328.40 L655.27,327.42 M664.47,323.48 L663.48,322.50 L661.52,322.50 L660.53,323.48 L660.53,324.47 L661.52,325.45 L663.48,325.45 L664.47,326.43 L664.47,327.42 L663.48,328.40 L661.52,328.40 L660.53,327.42 M665.79,323.48 L666.78,322.50 L668.75,322.50 L669.73,323.48 L669.73,324.47 L668.75,325.45 L667.76,325.45 M668.75,325.45 L669.73,326.43 L669.73,327.42 L668.75,328.40 L666.78,328.40 L665.79,327.42 M671.45,323.48 L672.43,322.50 L672.43,328.40 M678.28,323.48 L677.30,322.50 L675.33,322.50 L674.35,323.48 L674.35,327.42 L675.33,328.40 L677.30,328.40 L678.28,327.42 L678.28,325.94 L677.30,324.96 L674.35,324.96 M679.61,328.40 L683.54,322.50 M684.87,323.48 L685.86,322.50 L687.82,322.50 L688.80,323.48 L688.80,324.47 L687.82,325.45 L686.84,325.45 M687.82,325.45 L688.80,326.43 L688.80,327.42 L687.82,328.40 L685.86,328.40 L684.87,327.42 M691.12,328.40 L690.13,327.42 L690.13,323.48 L691.12,322.50 L693.08,322.50 L694.07,323.48 L694.07,327.42 L693.08,328.40 L691.12,328.40 M698.34,328.40 L698.34,322.50 L695.39,326.43 L699.33,326.43" stroke="#000" stroke-width="0.85" fill="none" stroke-linejoin="round" stroke-linecap="round"/>
<path d="M511.28,341.87 L512.34,340.80 L512.34,347.20 M514.58,341.87 L515.65,340.80 L517.78,340.80 L518.85,341.87 L518.85,342.93 L514.58,347.20 L518.85,347.20" stroke="#000" stroke-width="0.85" fill="none" stroke-linejoin="round" stroke-linecap="round"/>
<path d="M548.30,342.70 L548.30,336.50 L551.63,336.50 L552.74,337.53 L552.74,338.57 L551.63,339.60 L548.30,339.60 M551.63,339.60 L552.74,340.63 L552.74,341.67 L551.63,342.70 L548.30,342.70 M558.67,336.50 L554.23,336.50 L554.23,342.70 L558.67,342.70 M554.23,339.60 L557.56,339.60 M560.17,336.50 L560.17,342.70 L564.60,342.70 M566.10,336.50 L566.10,342.70 L570.54,342.70 M576.47,336.50 L572.03,336.50 L572.03,342.70 L576.47,342.70 M572.03,339.60 L575.36,339.60 M577.97,336.50 L580.18,342.70 L582.40,336.50 M583.90,336.50 L583.90,342.70 M585.40,336.50 L585.40,342.70 L589.83,342.70 M591.33,336.50 L591.33,342.70 L595.77,342.70 M601.70,336.50 L597.26,336.50 L597.26,342.70 L601.70,342.70 M597.26,339.60 L600.59,339.60" stroke="#000" stroke-width="0.85" fill="none" stroke-linejoin="round" stroke-linecap="round"/>
<path d="M558.65,345.40 L559.80,351.60 L560.96,347.47 L562.11,351.60 L563.27,345.40 M564.69,351.60 L566.79,345.40 L568.89,351.60 M565.42,349.43 L568.15,349.43 M574.50,346.43 L573.45,345.40 L571.35,345.40 L570.30,346.43 L570.30,347.47 L571.35,348.50 L573.45,348.50 L574.50,349.53 L574.50,350.57 L573.45,351.60 L571.35,351.60 L570.30,350.57 M575.92,351.60 L575.92,345.40 M580.12,351.60 L580.12,345.40 M575.92,348.50 L580.12,348.50 M585.73,345.40 L581.53,345.40 L581.53,351.60 L585.73,351.60 M581.53,348.50 L584.68,348.50 M587.15,351.60 L587.15,345.40 L590.30,345.40 L591.35,346.43 L591.35,347.47 L590.30,348.50 L587.15,348.50 M589.25,348.50 L591.35,351.60" stroke="#000" stroke-width="0.85" fill="none" stroke-linejoin="round" stroke-linecap="round"/>
<path d="M669.73,341.88 L668.75,340.90 L666.78,340.90 L665.79,341.88 L665.79,342.87 L666.78,343.85 L668.75,343.85 L669.73,344.83 L669.73,345.82 L668.75,346.80 L666.78,346.80 L665.79,345.82 M674.99,341.88 L674.01,340.90 L672.04,340.90 L671.06,341.88 L671.06,342.87 L672.04,343.85 L674.01,343.85 L674.99,344.83 L674.99,345.82 L674.01,346.80 L672.04,346.80 L671.06,345.82 M676.32,341.88 L677.30,340.90 L679.27,340.90 L680.25,341.88 L680.25,342.87 L679.27,343.85 L678.28,343.85 M679.27,343.85 L680.25,344.83 L680.25,345.82 L679.27,346.80 L677.30,346.80 L676.32,345.82 M682.56,346.80 L681.58,345.82 L681.58,341.88 L682.56,340.90 L684.53,340.90 L685.51,341.88 L685.51,345.82 L684.53,346.80 L682.56,346.80 M687.23,341.88 L688.21,340.90 L688.21,346.80" stroke="#000" stroke-width="0.85" fill="none" stroke-linejoin="round" stroke-linecap="round"/>
<path d="M511.28,360.27 L512.34,359.20 L512.34,365.60 M514.58,360.27 L515.65,359.20 L517.78,359.20 L518.85,360.27 L518.85,361.33 L517.78,362.40 L516.72,362.40 M517.78,362.40 L518.85,363.47 L518.85,364.53 L517.78,365.60 L515.65,365.60 L514.58,364.53" stroke="#000" stroke-width="0.85" fill="none" stroke-linejoin="round" stroke-linecap="round"/>
<path d="M553.78,360.28 L552.80,359.30 L550.83,359.30 L549.85,360.28 L549.85,361.27 L550.83,362.25 L552.80,362.25 L553.78,363.23 L553.78,364.22 L552.80,365.20 L550.83,365.20 L549.85,364.22 M555.11,359.30 L559.05,359.30 M557.08,359.30 L557.08,365.20 M561.36,365.20 L560.37,364.22 L560.37,360.28 L561.36,359.30 L563.32,359.30 L564.31,360.28 L564.31,364.22 L563.32,365.20 L561.36,365.20 M565.63,365.20 L565.63,359.30 L568.58,359.30 L569.57,360.28 L569.57,361.27 L568.58,362.25 L565.63,362.25 M578.71,360.28 L577.73,359.30 L575.76,359.30 L574.78,360.28 L574.78,361.27 L575.76,362.25 L577.73,362.25 L578.71,363.23 L578.71,364.22 L577.73,365.20 L575.76,365.20 L574.78,364.22 M583.97,360.28 L582.99,359.30 L581.02,359.30 L580.04,360.28 L580.04,364.22 L581.02,365.20 L582.99,365.20 L583.97,364.22 M585.30,365.20 L585.30,359.30 L588.25,359.30 L589.23,360.28 L589.23,361.27 L588.25,362.25 L585.30,362.25 M587.27,362.25 L589.23,365.20 M594.49,359.30 L590.56,359.30 L590.56,365.20 L594.49,365.20 M590.56,362.25 L593.51,362.25 M595.82,359.30 L596.90,365.20 L597.99,361.27 L599.07,365.20 L600.15,359.30" stroke="#000" stroke-width="0.85" fill="none" stroke-linejoin="round" stroke-linecap="round"/>
<path d="M661.22,365.20 L663.19,359.30 L665.16,365.20 M661.91,363.13 L664.47,363.13 M666.88,360.28 L667.86,359.30 L667.86,365.20 M669.78,364.22 L670.76,365.20 L672.73,365.20 L673.71,364.22 L673.71,360.28 L672.73,359.30 L670.76,359.30 L669.78,360.28 L669.78,361.76 L670.76,362.74 L673.71,362.74 M675.04,360.28 L676.02,359.30 L677.99,359.30 L678.97,360.28 L678.97,361.27 L677.99,362.25 L677.00,362.25 M677.99,362.25 L678.97,363.23 L678.97,364.22 L677.99,365.20 L676.02,365.20 L675.04,364.22 M684.18,365.20 L684.18,359.30 L687.13,359.30 L688.12,360.28 L688.12,361.27 L687.13,362.25 L684.18,362.25 M687.13,362.25 L688.12,363.23 L688.12,364.22 L687.13,365.20 L684.18,365.20 M690.43,362.25 L689.44,361.27 L689.44,360.28 L690.43,359.30 L692.39,359.30 L693.38,360.28 L693.38,361.27 L692.39,362.25 L690.43,362.25 L689.44,363.23 L689.44,364.22 L690.43,365.20 L692.39,365.20 L693.38,364.22 L693.38,363.23 L692.39,362.25" stroke="#000" stroke-width="0.85" fill="none" stroke-linejoin="round" stroke-linecap="round"/>
<path d="M511.28,378.67 L512.34,377.60 L512.34,384.00 M517.78,384.00 L517.78,377.60 L514.58,381.87 L518.85,381.87" stroke="#000" stroke-width="0.85" fill="none" stroke-linejoin="round" stroke-linecap="round"/>
<path d="M553.98,378.68 L553.00,377.70 L551.03,377.70 L550.05,378.68 L550.05,379.67 L551.03,380.65 L553.00,380.65 L553.98,381.63 L553.98,382.62 L553.00,383.60 L551.03,383.60 L550.05,382.62 M555.31,377.70 L559.24,377.70 M557.28,377.70 L557.28,383.60 M561.55,383.60 L560.57,382.62 L560.57,378.68 L561.55,377.70 L563.52,377.70 L564.50,378.68 L564.50,382.62 L563.52,383.60 L561.55,383.60 M565.83,383.60 L565.83,377.70 L568.78,377.70 L569.76,378.68 L569.76,379.67 L568.78,380.65 L565.83,380.65 M574.98,383.60 L574.98,377.70 L577.93,377.70 L578.91,378.68 L578.91,379.67 L577.93,380.65 L574.98,380.65 M580.24,377.70 L580.24,383.60 L584.17,383.60 M585.50,383.60 L587.46,377.70 L589.43,383.60 M586.19,381.54 L588.74,381.54 M590.76,377.70 L594.69,377.70 M592.72,377.70 L592.72,383.60 M599.95,377.70 L596.02,377.70 L596.02,383.60 L599.95,383.60 M596.02,380.65 L598.97,380.65" stroke="#000" stroke-width="0.85" fill="none" stroke-linejoin="round" stroke-linecap="round"/>
<path d="M668.74,378.68 L667.76,377.70 L665.79,377.70 L664.81,378.68 L664.81,379.67 L665.79,380.65 L667.76,380.65 L668.74,381.63 L668.74,382.62 L667.76,383.60 L665.79,383.60 L664.81,382.62 M674.01,378.68 L673.02,377.70 L671.06,377.70 L670.07,378.68 L670.07,379.67 L671.06,380.65 L673.02,380.65 L674.01,381.63 L674.01,382.62 L673.02,383.60 L671.06,383.60 L670.07,382.62 M675.33,378.68 L676.32,377.70 L678.28,377.70 L679.27,378.68 L679.27,379.67 L678.28,380.65 L677.30,380.65 M678.28,380.65 L679.27,381.63 L679.27,382.62 L678.28,383.60 L676.32,383.60 L675.33,382.62 M681.58,383.60 L680.59,382.62 L680.59,378.68 L681.58,377.70 L683.54,377.70 L684.53,378.68 L684.53,382.62 L683.54,383.60 L681.58,383.60 M688.80,383.60 L688.80,377.70 L685.85,381.63 L689.79,381.63" stroke="#000" stroke-width="0.85" fill="none" stroke-linejoin="round" stroke-linecap="round"/>
<path d="M511.28,397.07 L512.34,396.00 L512.34,402.40 M518.85,396.00 L514.58,396.00 L514.58,398.67 L517.78,398.67 L518.85,399.73 L518.85,401.33 L517.78,402.40 L515.65,402.40 L514.58,401.33" stroke="#000" stroke-width="0.85" fill="none" stroke-linejoin="round" stroke-linecap="round"/>
<path d="M556.61,397.08 L555.63,396.10 L553.66,396.10 L552.68,397.08 L552.68,401.02 L553.66,402.00 L555.63,402.00 L556.61,401.02 L556.61,399.05 L554.64,399.05 M557.94,396.10 L557.94,402.00 L561.87,402.00 M563.20,402.00 L565.17,396.10 L567.13,402.00 M563.89,399.94 L566.44,399.94 M568.46,402.00 L568.46,396.10 L572.39,402.00 L572.39,396.10 M573.72,402.00 L573.72,396.10 L576.67,396.10 L577.65,397.08 L577.65,401.02 L576.67,402.00 L573.72,402.00 M582.87,402.00 L582.87,396.10 L586.80,402.00 L586.80,396.10 M588.13,396.10 L588.13,401.02 L589.11,402.00 L591.08,402.00 L592.06,401.02 L592.06,396.10 M593.39,396.10 L597.32,396.10 M595.35,396.10 L595.35,402.00" stroke="#000" stroke-width="0.85" fill="none" stroke-linejoin="round" stroke-linecap="round"/>
<path d="M663.85,402.00 L665.82,396.10 L667.79,402.00 M664.54,399.94 L667.10,399.94 M669.51,397.08 L670.49,396.10 L670.49,402.00 M672.41,401.02 L673.39,402.00 L675.36,402.00 L676.34,401.02 L676.34,397.08 L675.36,396.10 L673.39,396.10 L672.41,397.08 L672.41,398.56 L673.39,399.54 L676.34,399.54 M680.62,402.00 L680.62,396.10 L677.67,400.03 L681.60,400.03 M687.80,399.05 L686.81,398.07 L686.81,397.08 L687.80,396.10 L689.76,396.10 L690.75,397.08 L690.75,398.07 L689.76,399.05 L687.80,399.05 L686.81,400.03 L686.81,401.02 L687.80,402.00 L689.76,402.00 L690.75,401.02 L690.75,400.03 L689.76,399.05" stroke="#000" stroke-width="0.85" fill="none" stroke-linejoin="round" stroke-linecap="round"/>
<path d="M511.28,415.47 L512.34,414.40 L512.34,420.80 M518.85,415.47 L517.78,414.40 L515.65,414.40 L514.58,415.47 L514.58,419.73 L515.65,420.80 L517.78,420.80 L518.85,419.73 L518.85,418.13 L517.78,417.07 L514.58,417.07" stroke="#000" stroke-width="0.85" fill="none" stroke-linejoin="round" stroke-linecap="round"/>
<path d="M559.88,420.40 L559.88,414.50 M563.81,420.40 L563.81,414.50 M559.88,417.45 L563.81,417.45 M565.14,420.40 L567.11,414.50 L569.08,420.40 M565.83,418.33 L568.39,418.33 M570.40,420.40 L570.40,414.50 L574.34,420.40 L574.34,414.50 M575.66,420.40 L575.66,414.50 L578.61,414.50 L579.60,415.48 L579.60,419.42 L578.61,420.40 L575.66,420.40 M580.92,414.50 L580.92,420.40 L584.86,420.40 M590.12,414.50 L586.19,414.50 L586.19,420.40 L590.12,420.40 M586.19,417.45 L589.14,417.45" stroke="#000" stroke-width="0.85" fill="none" stroke-linejoin="round" stroke-linecap="round"/>
<path d="M668.74,415.48 L667.76,414.50 L665.79,414.50 L664.81,415.48 L664.81,416.47 L665.79,417.45 L667.76,417.45 L668.74,418.43 L668.74,419.42 L667.76,420.40 L665.79,420.40 L664.81,419.42 M674.01,415.48 L673.02,414.50 L671.06,414.50 L670.07,415.48 L670.07,416.47 L671.06,417.45 L673.02,417.45 L674.01,418.43 L674.01,419.42 L673.02,420.40 L671.06,420.40 L670.07,419.42 M675.33,415.48 L676.32,414.50 L678.28,414.50 L679.27,415.48 L679.27,416.47 L678.28,417.45 L677.30,417.45 M678.28,417.45 L679.27,418.43 L679.27,419.42 L678.28,420.40 L676.32,420.40 L675.33,419.42 M681.58,420.40 L680.59,419.42 L680.59,415.48 L681.58,414.50 L683.54,414.50 L684.53,415.48 L684.53,419.42 L683.54,420.40 L681.58,420.40 M688.80,420.40 L688.80,414.50 L685.85,418.43 L689.79,418.43" stroke="#000" stroke-width="0.85" fill="none" stroke-linejoin="round" stroke-linecap="round"/>
<path d="M310.80,205.70 L310.80,199.50 L314.24,199.50 L315.38,200.53 L315.38,204.67 L314.24,205.70 L310.80,205.70 M316.87,199.50 L316.87,205.70 M318.37,205.70 L318.37,199.50 L320.89,203.01 L323.41,199.50 L323.41,205.70 M329.48,199.50 L324.90,199.50 L324.90,205.70 L329.48,205.70 M324.90,202.60 L328.34,202.60 M330.97,205.70 L330.97,199.50 L335.56,205.70 L335.56,199.50 M341.63,200.53 L340.49,199.50 L338.19,199.50 L337.05,200.53 L337.05,201.57 L338.19,202.60 L340.49,202.60 L341.63,203.63 L341.63,204.67 L340.49,205.70 L338.19,205.70 L337.05,204.67 M343.12,199.50 L343.12,205.70 M345.76,205.70 L344.61,204.67 L344.61,200.53 L345.76,199.50 L348.05,199.50 L349.20,200.53 L349.20,204.67 L348.05,205.70 L345.76,205.70 M350.69,205.70 L350.69,199.50 L355.27,205.70 L355.27,199.50 M360.78,199.50 L360.78,205.70 L365.36,205.70 M366.85,199.50 L366.85,205.70 M372.93,200.53 L371.78,199.50 L369.49,199.50 L368.34,200.53 L368.34,201.57 L369.49,202.60 L371.78,202.60 L372.93,203.63 L372.93,204.67 L371.78,205.70 L369.49,205.70 L368.34,204.67 M374.42,199.50 L379.00,199.50 M376.71,199.50 L376.71,205.70" stroke="#000" stroke-width="0.8" fill="none" stroke-linejoin="round" stroke-linecap="round"/>
<line x1="310.8" y1="208.2" x2="477" y2="208.2" stroke="#000" stroke-width="1.2" />
<line x1="310.8" y1="222.6" x2="477" y2="222.6" stroke="#000" stroke-width="1.2" />
<line x1="310.8" y1="237.1" x2="477" y2="237.1" stroke="#000" stroke-width="1.2" />
<line x1="310.8" y1="251.5" x2="477" y2="251.5" stroke="#000" stroke-width="1.2" />
<line x1="310.8" y1="265.9" x2="477" y2="265.9" stroke="#000" stroke-width="1.2" />
<line x1="310.8" y1="280.4" x2="477" y2="280.4" stroke="#000" stroke-width="1.2" />
<line x1="310.8" y1="294.8" x2="477" y2="294.8" stroke="#000" stroke-width="1.2" />
<line x1="310.8" y1="309.2" x2="477" y2="309.2" stroke="#000" stroke-width="1.2" />
<line x1="310.8" y1="208.2" x2="310.8" y2="309.2" stroke="#000" stroke-width="1.2" />
<line x1="333.5" y1="208.2" x2="333.5" y2="309.2" stroke="#000" stroke-width="1.2" />
<line x1="355.6" y1="208.2" x2="355.6" y2="309.2" stroke="#000" stroke-width="1.2" />
<line x1="377.8" y1="208.2" x2="377.8" y2="309.2" stroke="#000" stroke-width="1.2" />
<line x1="399.5" y1="208.2" x2="399.5" y2="309.2" stroke="#000" stroke-width="1.2" />
<line x1="421.7" y1="208.2" x2="421.7" y2="309.2" stroke="#000" stroke-width="1.2" />
<line x1="443.5" y1="208.2" x2="443.5" y2="309.2" stroke="#000" stroke-width="1.2" />
<line x1="477" y1="208.2" x2="477" y2="309.2" stroke="#000" stroke-width="1.2" />
<path d="M317.14,218.60 L317.14,212.20 L320.34,212.20 L321.40,213.27 L321.40,217.53 L320.34,218.60 L317.14,218.60 M322.90,218.60 L322.90,212.20 L327.16,218.60 L327.16,212.20" stroke="#000" stroke-width="0.95" fill="none" stroke-linejoin="round" stroke-linecap="round"/>
<text x="344.55" y="218.6" font-family='"Liberation Sans", sans-serif' font-size="9" text-anchor="middle" fill="#000" textLength="5.5" lengthAdjust="spacingAndGlyphs" >d</text>
<path d="M363.27,218.60 L363.27,212.20 L366.47,212.20 L367.53,213.27 L367.53,217.53 L366.47,218.60 L363.27,218.60" stroke="#000" stroke-width="0.95" fill="none" stroke-linejoin="round" stroke-linecap="round"/>
<path d="M369.68,216.70 L370.38,216.00 L370.38,220.20" stroke="#000" stroke-width="0.8" fill="none" stroke-linejoin="round" stroke-linecap="round"/>
<path d="M385.22,218.60 L385.22,212.20 L388.42,212.20 L389.48,213.27 L389.48,217.53 L388.42,218.60 L385.22,218.60" stroke="#000" stroke-width="0.95" fill="none" stroke-linejoin="round" stroke-linecap="round"/>
<path d="M390.65,216.70 L391.35,216.00 L392.75,216.00 L393.45,216.70 L393.45,217.40 L390.65,220.20 L393.45,220.20" stroke="#000" stroke-width="0.8" fill="none" stroke-linejoin="round" stroke-linecap="round"/>
<path d="M408.47,218.60 L408.47,212.20 L411.67,212.20 L412.73,213.27 L412.73,217.53 L411.67,218.60 L408.47,218.60" stroke="#000" stroke-width="0.95" fill="none" stroke-linejoin="round" stroke-linecap="round"/>
<path d="M430.47,212.20 L430.47,218.60 L434.73,218.60" stroke="#000" stroke-width="0.95" fill="none" stroke-linejoin="round" stroke-linecap="round"/>
<path d="M452.14,218.60 L452.14,212.20 L456.41,218.60 L456.41,212.20 M458.44,215.40 L461.64,215.40 M463.66,218.60 L463.66,212.20 L466.01,215.83 L468.36,212.20 L468.36,218.60" stroke="#000" stroke-width="0.95" fill="none" stroke-linejoin="round" stroke-linecap="round"/>
<path d="M318.63,227.67 L319.70,226.60 L319.70,233.00 M326.10,226.60 L321.83,226.60 L321.83,229.27 L325.03,229.27 L326.10,230.33 L326.10,231.93 L325.03,233.00 L322.90,233.00 L321.83,231.93" stroke="#000" stroke-width="0.95" fill="none" stroke-linejoin="round" stroke-linecap="round"/>
<path d="M341.03,227.67 L342.10,226.60 L342.10,233.00 M348.50,226.60 L344.23,226.60 L344.23,229.27 L347.43,229.27 L348.50,230.33 L348.50,231.93 L347.43,233.00 L345.30,233.00 L344.23,231.93" stroke="#000" stroke-width="0.95" fill="none" stroke-linejoin="round" stroke-linecap="round"/>
<path d="M364.89,233.00 L364.89,226.60 L361.69,230.87 L365.95,230.87 M371.71,226.60 L367.45,226.60 L367.45,229.27 L370.65,229.27 L371.71,230.33 L371.71,231.93 L370.65,233.00 L368.51,233.00 L367.45,231.93" stroke="#000" stroke-width="0.95" fill="none" stroke-linejoin="round" stroke-linecap="round"/>
<path d="M387.90,227.67 L386.84,226.60 L384.70,226.60 L383.64,227.67 L383.64,231.93 L384.70,233.00 L386.84,233.00 L387.90,231.93 L387.90,230.33 L386.84,229.27 L383.64,229.27 M393.66,226.60 L389.40,226.60 L389.40,229.27 L392.60,229.27 L393.66,230.33 L393.66,231.93 L392.60,233.00 L390.46,233.00 L389.40,231.93" stroke="#000" stroke-width="0.95" fill="none" stroke-linejoin="round" stroke-linecap="round"/>
<path d="M405.59,231.93 L406.65,233.00 L408.79,233.00 L409.85,231.93 L409.85,227.67 L408.79,226.60 L406.65,226.60 L405.59,227.67 L405.59,229.27 L406.65,230.33 L409.85,230.33 M412.41,233.00 L411.35,231.93 L411.35,227.67 L412.41,226.60 L414.55,226.60 L415.61,227.67 L415.61,231.93 L414.55,233.00 L412.41,233.00" stroke="#000" stroke-width="0.95" fill="none" stroke-linejoin="round" stroke-linecap="round"/>
<path d="M423.30,227.67 L424.36,226.60 L426.47,226.60 L427.53,227.67 L427.53,228.73 L426.47,229.80 L425.41,229.80 M426.47,229.80 L427.53,230.87 L427.53,231.93 L426.47,233.00 L424.36,233.00 L423.30,231.93 M433.23,226.60 L429.01,226.60 L429.01,229.27 L432.18,229.27 L433.23,230.33 L433.23,231.93 L432.18,233.00 L430.06,233.00 L429.01,231.93 M435.03,233.00 L435.88,233.00 L435.88,232.36 L435.03,232.36 Z M437.67,227.67 L438.73,226.60 L440.84,226.60 L441.90,227.67 L441.90,228.73 L437.67,233.00 L441.90,233.00" stroke="#000" stroke-width="0.95" fill="none" stroke-linejoin="round" stroke-linecap="round"/>
<path d="M450.27,233.00 L450.27,226.60 L446.95,230.87 L451.38,230.87 M453.49,229.80 L456.81,229.80 M458.92,233.00 L458.92,226.60 L461.36,230.23 L463.80,226.60 L463.80,233.00 M465.79,227.67 L466.90,226.60 L466.90,233.00 M469.12,227.67 L470.22,226.60 L472.44,226.60 L473.55,227.67 L473.55,228.73 L469.12,233.00 L473.55,233.00" stroke="#000" stroke-width="0.95" fill="none" stroke-linejoin="round" stroke-linecap="round"/>
<path d="M317.14,242.17 L318.20,241.10 L320.34,241.10 L321.40,242.17 L321.40,243.23 L317.14,247.50 L321.40,247.50 M323.96,247.50 L322.90,246.43 L322.90,242.17 L323.96,241.10 L326.10,241.10 L327.16,242.17 L327.16,246.43 L326.10,247.50 L323.96,247.50" stroke="#000" stroke-width="0.95" fill="none" stroke-linejoin="round" stroke-linecap="round"/>
<path d="M339.54,242.17 L340.60,241.10 L342.74,241.10 L343.80,242.17 L343.80,243.23 L339.54,247.50 L343.80,247.50 M346.36,247.50 L345.30,246.43 L345.30,242.17 L346.36,241.10 L348.50,241.10 L349.56,242.17 L349.56,246.43 L348.50,247.50 L346.36,247.50" stroke="#000" stroke-width="0.95" fill="none" stroke-linejoin="round" stroke-linecap="round"/>
<path d="M365.95,241.10 L361.69,241.10 L361.69,243.77 L364.89,243.77 L365.95,244.83 L365.95,246.43 L364.89,247.50 L362.75,247.50 L361.69,246.43 M368.51,244.30 L367.45,243.23 L367.45,242.17 L368.51,241.10 L370.65,241.10 L371.71,242.17 L371.71,243.23 L370.65,244.30 L368.51,244.30 L367.45,245.37 L367.45,246.43 L368.51,247.50 L370.65,247.50 L371.71,246.43 L371.71,245.37 L370.65,244.30" stroke="#000" stroke-width="0.95" fill="none" stroke-linejoin="round" stroke-linecap="round"/>
<path d="M383.64,241.10 L387.90,241.10 L385.24,247.50 M393.66,241.10 L389.40,241.10 L389.40,243.77 L392.60,243.77 L393.66,244.83 L393.66,246.43 L392.60,247.50 L390.46,247.50 L389.40,246.43" stroke="#000" stroke-width="0.95" fill="none" stroke-linejoin="round" stroke-linecap="round"/>
<path d="M404.20,242.17 L405.27,241.10 L405.27,247.50 M408.47,247.50 L407.40,246.43 L407.40,242.17 L408.47,241.10 L410.60,241.10 L411.67,242.17 L411.67,246.43 L410.60,247.50 L408.47,247.50 M414.23,247.50 L413.16,246.43 L413.16,242.17 L414.23,241.10 L416.36,241.10 L417.43,242.17 L417.43,246.43 L416.36,247.50 L414.23,247.50" stroke="#000" stroke-width="0.95" fill="none" stroke-linejoin="round" stroke-linecap="round"/>
<path d="M423.30,242.17 L424.36,241.10 L426.47,241.10 L427.53,242.17 L427.53,243.23 L426.47,244.30 L425.41,244.30 M426.47,244.30 L427.53,245.37 L427.53,246.43 L426.47,247.50 L424.36,247.50 L423.30,246.43 M430.06,244.30 L429.01,243.23 L429.01,242.17 L430.06,241.10 L432.18,241.10 L433.23,242.17 L433.23,243.23 L432.18,244.30 L430.06,244.30 L429.01,245.37 L429.01,246.43 L430.06,247.50 L432.18,247.50 L433.23,246.43 L433.23,245.37 L432.18,244.30 M435.03,247.50 L435.88,247.50 L435.88,246.86 L435.03,246.86 Z M437.67,242.17 L438.73,241.10 L440.84,241.10 L441.90,242.17 L441.90,243.23 L437.67,247.50 L441.90,247.50" stroke="#000" stroke-width="0.95" fill="none" stroke-linejoin="round" stroke-linecap="round"/>
<path d="M450.27,247.50 L450.27,241.10 L446.95,245.37 L451.38,245.37 M453.49,244.30 L456.81,244.30 M458.92,247.50 L458.92,241.10 L461.36,244.73 L463.80,241.10 L463.80,247.50 M465.79,242.17 L466.90,241.10 L466.90,247.50 M469.12,242.17 L470.22,241.10 L472.44,241.10 L473.55,242.17 L473.55,243.23 L469.12,247.50 L473.55,247.50" stroke="#000" stroke-width="0.95" fill="none" stroke-linejoin="round" stroke-linecap="round"/>
<path d="M317.14,256.57 L318.20,255.50 L320.34,255.50 L321.40,256.57 L321.40,257.63 L317.14,261.90 L321.40,261.90 M327.16,255.50 L322.90,255.50 L322.90,258.17 L326.10,258.17 L327.16,259.23 L327.16,260.83 L326.10,261.90 L323.96,261.90 L322.90,260.83" stroke="#000" stroke-width="0.95" fill="none" stroke-linejoin="round" stroke-linecap="round"/>
<path d="M339.54,256.57 L340.60,255.50 L342.74,255.50 L343.80,256.57 L343.80,257.63 L339.54,261.90 L343.80,261.90 M349.56,255.50 L345.30,255.50 L345.30,258.17 L348.50,258.17 L349.56,259.23 L349.56,260.83 L348.50,261.90 L346.36,261.90 L345.30,260.83" stroke="#000" stroke-width="0.95" fill="none" stroke-linejoin="round" stroke-linecap="round"/>
<path d="M365.95,256.57 L364.89,255.50 L362.75,255.50 L361.69,256.57 L361.69,260.83 L362.75,261.90 L364.89,261.90 L365.95,260.83 L365.95,259.23 L364.89,258.17 L361.69,258.17 M368.51,258.70 L367.45,257.63 L367.45,256.57 L368.51,255.50 L370.65,255.50 L371.71,256.57 L371.71,257.63 L370.65,258.70 L368.51,258.70 L367.45,259.77 L367.45,260.83 L368.51,261.90 L370.65,261.90 L371.71,260.83 L371.71,259.77 L370.65,258.70" stroke="#000" stroke-width="0.95" fill="none" stroke-linejoin="round" stroke-linecap="round"/>
<path d="M384.70,258.70 L383.64,257.63 L383.64,256.57 L384.70,255.50 L386.84,255.50 L387.90,256.57 L387.90,257.63 L386.84,258.70 L384.70,258.70 L383.64,259.77 L383.64,260.83 L384.70,261.90 L386.84,261.90 L387.90,260.83 L387.90,259.77 L386.84,258.70 M393.66,255.50 L389.40,255.50 L389.40,258.17 L392.60,258.17 L393.66,259.23 L393.66,260.83 L392.60,261.90 L390.46,261.90 L389.40,260.83" stroke="#000" stroke-width="0.95" fill="none" stroke-linejoin="round" stroke-linecap="round"/>
<path d="M405.27,256.57 L406.33,255.50 L406.33,261.90 M408.89,256.57 L409.96,255.50 L409.96,261.90 M413.16,261.90 L412.09,260.83 L412.09,256.57 L413.16,255.50 L415.29,255.50 L416.36,256.57 L416.36,260.83 L415.29,261.90 L413.16,261.90" stroke="#000" stroke-width="0.95" fill="none" stroke-linejoin="round" stroke-linecap="round"/>
<path d="M426.47,261.90 L426.47,255.50 L423.30,259.77 L427.53,259.77 M429.01,256.57 L430.06,255.50 L432.18,255.50 L433.23,256.57 L433.23,257.63 L432.18,258.70 L431.12,258.70 M432.18,258.70 L433.23,259.77 L433.23,260.83 L432.18,261.90 L430.06,261.90 L429.01,260.83 M435.03,261.90 L435.88,261.90 L435.88,261.26 L435.03,261.26 Z M437.67,256.57 L438.73,255.50 L440.84,255.50 L441.90,256.57 L441.90,257.63 L437.67,261.90 L441.90,261.90" stroke="#000" stroke-width="0.95" fill="none" stroke-linejoin="round" stroke-linecap="round"/>
<path d="M450.27,261.90 L450.27,255.50 L446.95,259.77 L451.38,259.77 M453.49,258.70 L456.81,258.70 M458.92,261.90 L458.92,255.50 L461.36,259.13 L463.80,255.50 L463.80,261.90 M465.79,256.57 L466.90,255.50 L466.90,261.90 M469.12,256.57 L470.22,255.50 L472.44,255.50 L473.55,256.57 L473.55,257.63 L469.12,261.90 L473.55,261.90" stroke="#000" stroke-width="0.95" fill="none" stroke-linejoin="round" stroke-linecap="round"/>
<path d="M317.14,270.97 L318.20,269.90 L320.34,269.90 L321.40,270.97 L321.40,272.03 L320.34,273.10 L319.27,273.10 M320.34,273.10 L321.40,274.17 L321.40,275.23 L320.34,276.30 L318.20,276.30 L317.14,275.23 M322.90,270.97 L323.96,269.90 L326.10,269.90 L327.16,270.97 L327.16,272.03 L322.90,276.30 L327.16,276.30" stroke="#000" stroke-width="0.95" fill="none" stroke-linejoin="round" stroke-linecap="round"/>
<path d="M339.54,270.97 L340.60,269.90 L342.74,269.90 L343.80,270.97 L343.80,272.03 L339.54,276.30 L343.80,276.30 M346.36,273.10 L345.30,272.03 L345.30,270.97 L346.36,269.90 L348.50,269.90 L349.56,270.97 L349.56,272.03 L348.50,273.10 L346.36,273.10 L345.30,274.17 L345.30,275.23 L346.36,276.30 L348.50,276.30 L349.56,275.23 L349.56,274.17 L348.50,273.10" stroke="#000" stroke-width="0.95" fill="none" stroke-linejoin="round" stroke-linecap="round"/>
<path d="M361.69,269.90 L365.95,269.90 L363.29,276.30 M368.51,273.10 L367.45,272.03 L367.45,270.97 L368.51,269.90 L370.65,269.90 L371.71,270.97 L371.71,272.03 L370.65,273.10 L368.51,273.10 L367.45,274.17 L367.45,275.23 L368.51,276.30 L370.65,276.30 L371.71,275.23 L371.71,274.17 L370.65,273.10" stroke="#000" stroke-width="0.95" fill="none" stroke-linejoin="round" stroke-linecap="round"/>
<path d="M382.25,270.97 L383.32,269.90 L383.32,276.30 M386.52,276.30 L385.45,275.23 L385.45,270.97 L386.52,269.90 L388.65,269.90 L389.72,270.97 L389.72,275.23 L388.65,276.30 L386.52,276.30 M392.28,276.30 L391.21,275.23 L391.21,270.97 L392.28,269.90 L394.41,269.90 L395.48,270.97 L395.48,275.23 L394.41,276.30 L392.28,276.30" stroke="#000" stroke-width="0.95" fill="none" stroke-linejoin="round" stroke-linecap="round"/>
<path d="M404.20,270.97 L405.27,269.90 L405.27,276.30 M407.40,270.97 L408.47,269.90 L410.60,269.90 L411.67,270.97 L411.67,272.03 L410.60,273.10 L409.53,273.10 M410.60,273.10 L411.67,274.17 L411.67,275.23 L410.60,276.30 L408.47,276.30 L407.40,275.23 M414.23,276.30 L413.16,275.23 L413.16,270.97 L414.23,269.90 L416.36,269.90 L417.43,270.97 L417.43,275.23 L416.36,276.30 L414.23,276.30" stroke="#000" stroke-width="0.95" fill="none" stroke-linejoin="round" stroke-linecap="round"/>
<path d="M428.07,269.90 L423.30,269.90 L423.30,272.57 L426.88,272.57 L428.07,273.63 L428.07,275.23 L426.88,276.30 L424.49,276.30 L423.30,275.23 M430.22,270.97 L431.41,269.90 L431.41,276.30 M434.15,276.30 L435.10,276.30 L435.10,275.66 L434.15,275.66 Z M437.13,270.97 L438.32,269.90 L440.71,269.90 L441.90,270.97 L441.90,272.03 L437.13,276.30 L441.90,276.30" stroke="#000" stroke-width="0.95" fill="none" stroke-linejoin="round" stroke-linecap="round"/>
<path d="M450.27,276.30 L450.27,269.90 L446.95,274.17 L451.38,274.17 M453.49,273.10 L456.81,273.10 M458.92,276.30 L458.92,269.90 L461.36,273.53 L463.80,269.90 L463.80,276.30 M465.79,270.97 L466.90,269.90 L466.90,276.30 M473.55,270.97 L472.44,269.90 L470.22,269.90 L469.12,270.97 L469.12,275.23 L470.22,276.30 L472.44,276.30 L473.55,275.23 L473.55,273.63 L472.44,272.57 L469.12,272.57" stroke="#000" stroke-width="0.95" fill="none" stroke-linejoin="round" stroke-linecap="round"/>
<path d="M320.34,290.80 L320.34,284.40 L317.14,288.67 L321.40,288.67 M323.96,290.80 L322.90,289.73 L322.90,285.47 L323.96,284.40 L326.10,284.40 L327.16,285.47 L327.16,289.73 L326.10,290.80 L323.96,290.80" stroke="#000" stroke-width="0.95" fill="none" stroke-linejoin="round" stroke-linecap="round"/>
<path d="M339.54,285.47 L340.60,284.40 L342.74,284.40 L343.80,285.47 L343.80,286.53 L342.74,287.60 L341.67,287.60 M342.74,287.60 L343.80,288.67 L343.80,289.73 L342.74,290.80 L340.60,290.80 L339.54,289.73 M345.30,289.73 L346.36,290.80 L348.50,290.80 L349.56,289.73 L349.56,285.47 L348.50,284.40 L346.36,284.40 L345.30,285.47 L345.30,287.07 L346.36,288.13 L349.56,288.13" stroke="#000" stroke-width="0.95" fill="none" stroke-linejoin="round" stroke-linecap="round"/>
<path d="M362.75,287.60 L361.69,286.53 L361.69,285.47 L362.75,284.40 L364.89,284.40 L365.95,285.47 L365.95,286.53 L364.89,287.60 L362.75,287.60 L361.69,288.67 L361.69,289.73 L362.75,290.80 L364.89,290.80 L365.95,289.73 L365.95,288.67 L364.89,287.60 M368.51,287.60 L367.45,286.53 L367.45,285.47 L368.51,284.40 L370.65,284.40 L371.71,285.47 L371.71,286.53 L370.65,287.60 L368.51,287.60 L367.45,288.67 L367.45,289.73 L368.51,290.80 L370.65,290.80 L371.71,289.73 L371.71,288.67 L370.65,287.60" stroke="#000" stroke-width="0.95" fill="none" stroke-linejoin="round" stroke-linecap="round"/>
<path d="M383.32,285.47 L384.38,284.40 L384.38,290.80 M386.94,285.47 L388.01,284.40 L388.01,290.80 M391.21,290.80 L390.14,289.73 L390.14,285.47 L391.21,284.40 L393.34,284.40 L394.41,285.47 L394.41,289.73 L393.34,290.80 L391.21,290.80" stroke="#000" stroke-width="0.95" fill="none" stroke-linejoin="round" stroke-linecap="round"/>
<path d="M404.20,285.47 L405.27,284.40 L405.27,290.80 M410.60,290.80 L410.60,284.40 L407.40,288.67 L411.67,288.67 M414.23,290.80 L413.16,289.73 L413.16,285.47 L414.23,284.40 L416.36,284.40 L417.43,285.47 L417.43,289.73 L416.36,290.80 L414.23,290.80" stroke="#000" stroke-width="0.95" fill="none" stroke-linejoin="round" stroke-linecap="round"/>
<path d="M427.53,285.47 L426.47,284.40 L424.36,284.40 L423.30,285.47 L423.30,289.73 L424.36,290.80 L426.47,290.80 L427.53,289.73 L427.53,288.13 L426.47,287.07 L423.30,287.07 M432.18,290.80 L432.18,284.40 L429.01,288.67 L433.23,288.67 M435.03,290.80 L435.88,290.80 L435.88,290.16 L435.03,290.16 Z M437.67,285.47 L438.73,284.40 L440.84,284.40 L441.90,285.47 L441.90,286.53 L437.67,290.80 L441.90,290.80" stroke="#000" stroke-width="0.95" fill="none" stroke-linejoin="round" stroke-linecap="round"/>
<path d="M450.27,290.80 L450.27,284.40 L446.95,288.67 L451.38,288.67 M453.49,287.60 L456.81,287.60 M458.92,290.80 L458.92,284.40 L461.36,288.03 L463.80,284.40 L463.80,290.80 M465.79,285.47 L466.90,284.40 L466.90,290.80 M473.55,285.47 L472.44,284.40 L470.22,284.40 L469.12,285.47 L469.12,289.73 L470.22,290.80 L472.44,290.80 L473.55,289.73 L473.55,288.13 L472.44,287.07 L469.12,287.07" stroke="#000" stroke-width="0.95" fill="none" stroke-linejoin="round" stroke-linecap="round"/>
<path d="M321.40,298.80 L317.14,298.80 L317.14,301.47 L320.34,301.47 L321.40,302.53 L321.40,304.13 L320.34,305.20 L318.20,305.20 L317.14,304.13 M323.96,305.20 L322.90,304.13 L322.90,299.87 L323.96,298.80 L326.10,298.80 L327.16,299.87 L327.16,304.13 L326.10,305.20 L323.96,305.20" stroke="#000" stroke-width="0.95" fill="none" stroke-linejoin="round" stroke-linecap="round"/>
<path d="M343.80,298.80 L339.54,298.80 L339.54,301.47 L342.74,301.47 L343.80,302.53 L343.80,304.13 L342.74,305.20 L340.60,305.20 L339.54,304.13 M346.36,305.20 L345.30,304.13 L345.30,299.87 L346.36,298.80 L348.50,298.80 L349.56,299.87 L349.56,304.13 L348.50,305.20 L346.36,305.20" stroke="#000" stroke-width="0.95" fill="none" stroke-linejoin="round" stroke-linecap="round"/>
<path d="M360.30,299.87 L361.37,298.80 L361.37,305.20 M364.57,305.20 L363.50,304.13 L363.50,299.87 L364.57,298.80 L366.70,298.80 L367.77,299.87 L367.77,304.13 L366.70,305.20 L364.57,305.20 M369.26,299.87 L370.33,298.80 L372.46,298.80 L373.53,299.87 L373.53,300.93 L369.26,305.20 L373.53,305.20" stroke="#000" stroke-width="0.95" fill="none" stroke-linejoin="round" stroke-linecap="round"/>
<path d="M382.25,299.87 L383.32,298.80 L383.32,305.20 M385.45,299.87 L386.52,298.80 L388.65,298.80 L389.72,299.87 L389.72,300.93 L385.45,305.20 L389.72,305.20 M395.48,298.80 L391.21,298.80 L391.21,301.47 L394.41,301.47 L395.48,302.53 L395.48,304.13 L394.41,305.20 L392.28,305.20 L391.21,304.13" stroke="#000" stroke-width="0.95" fill="none" stroke-linejoin="round" stroke-linecap="round"/>
<path d="M404.20,299.87 L405.27,298.80 L405.27,305.20 M411.67,298.80 L407.40,298.80 L407.40,301.47 L410.60,301.47 L411.67,302.53 L411.67,304.13 L410.60,305.20 L408.47,305.20 L407.40,304.13 M414.23,305.20 L413.16,304.13 L413.16,299.87 L414.23,298.80 L416.36,298.80 L417.43,299.87 L417.43,304.13 L416.36,305.20 L414.23,305.20" stroke="#000" stroke-width="0.95" fill="none" stroke-linejoin="round" stroke-linecap="round"/>
<path d="M424.36,302.00 L423.30,300.93 L423.30,299.87 L424.36,298.80 L426.47,298.80 L427.53,299.87 L427.53,300.93 L426.47,302.00 L424.36,302.00 L423.30,303.07 L423.30,304.13 L424.36,305.20 L426.47,305.20 L427.53,304.13 L427.53,303.07 L426.47,302.00 M430.06,305.20 L429.01,304.13 L429.01,299.87 L430.06,298.80 L432.18,298.80 L433.23,299.87 L433.23,304.13 L432.18,305.20 L430.06,305.20 M435.03,305.20 L435.88,305.20 L435.88,304.56 L435.03,304.56 Z M437.67,299.87 L438.73,298.80 L440.84,298.80 L441.90,299.87 L441.90,300.93 L437.67,305.20 L441.90,305.20" stroke="#000" stroke-width="0.95" fill="none" stroke-linejoin="round" stroke-linecap="round"/>
<path d="M450.27,305.20 L450.27,298.80 L446.95,303.07 L451.38,303.07 M453.49,302.00 L456.81,302.00 M458.92,305.20 L458.92,298.80 L461.36,302.43 L463.80,298.80 L463.80,305.20 M465.79,299.87 L466.90,298.80 L466.90,305.20 M473.55,299.87 L472.44,298.80 L470.22,298.80 L469.12,299.87 L469.12,304.13 L470.22,305.20 L472.44,305.20 L473.55,304.13 L473.55,302.53 L472.44,301.47 L469.12,301.47" stroke="#000" stroke-width="0.95" fill="none" stroke-linejoin="round" stroke-linecap="round"/>
<path d="M113.5,192 L139.4,192 L139.4,209.3 L150.2,209.3 L150.2,244.5 L139.6,244.5 L139.6,255 L132.6,262 L132.6,267.4 L118.7,267.4 L118.7,281.3 L109.3,281.3 L109.3,222.2 L113.5,222.2 Z" stroke="#000" stroke-width="1.1" fill="url(#hb)" />
<path d="M195.2,192 L224.4,192 L224.4,222.1 L228.8,222.1 L228.8,242.1 L221.4,242.1 L221.4,247.2 L218,247.2 L218,254.3 L195.1,254.3 L195.1,244.5 L184.6,244.5 L184.6,209.3 L195.2,209.3 Z" stroke="#000" stroke-width="1.1" fill="url(#hb)" />
<path d="M109.3,351.4 L118.7,351.4 L118.7,364.7 L132.3,364.7 L140,372.4 L195.6,372.4 L195.6,377 L218.2,377 L218.2,384 L221.4,384 L221.4,389.3 L228.7,389.3 L228.7,410.5 L224.2,410.5 L224.2,417.3 L113.7,417.3 L113.7,410.5 L109.3,410.5 Z" stroke="#000" stroke-width="1.1" fill="url(#hb)" />
<path d="M113.7,449.6 L224.2,449.6 L224.2,468 L113.7,468 Z" stroke="#000" stroke-width="1.1" fill="url(#hb)" />
<line x1="113.7" y1="419.2" x2="224.2" y2="419.2" stroke="#444" stroke-width="1.0" />
<line x1="113.7" y1="447.7" x2="224.2" y2="447.7" stroke="#444" stroke-width="1.0" />
<rect x="113.7" y="417.6" width="110.5" height="1.4" fill="#aaa"/>
<rect x="113.7" y="448" width="110.5" height="1.4" fill="#aaa"/>
<line x1="113.7" y1="417.3" x2="113.7" y2="449.6" stroke="#000" stroke-width="1.1" />
<line x1="224.2" y1="417.3" x2="224.2" y2="449.6" stroke="#000" stroke-width="1.1" />
<clipPath id="ballclipT"><rect x="120.1" y="250" width="94.2" height="31.5"/></clipPath>
<clipPath id="ballclipB"><rect x="120.1" y="350.5" width="94.2" height="30"/></clipPath>
<circle cx="167.2" cy="324.9" r="64.4" fill="#fff" stroke="#000" stroke-width="1.1" clip-path="url(#ballclipT)"/>
<circle cx="167.2" cy="307.7" r="63.8" fill="#fff" stroke="#000" stroke-width="1.1" clip-path="url(#ballclipB)"/>
<rect x="119.6" y="281.6" width="95.2" height="69.4" fill="#fff"/>
<line x1="124.8" y1="282.9" x2="209.6" y2="282.9" stroke="#000" stroke-width="1.2" />
<line x1="124.8" y1="349.2" x2="209.6" y2="349.2" stroke="#000" stroke-width="1.2" />
<line x1="120.1" y1="281.3" x2="120.1" y2="351.5" stroke="#000" stroke-width="0.9" />
<line x1="122.7" y1="281.3" x2="122.7" y2="351.5" stroke="#666" stroke-width="1.8" />
<line x1="124.8" y1="281.3" x2="124.8" y2="351.5" stroke="#000" stroke-width="1.0" />
<line x1="209.6" y1="281.3" x2="209.6" y2="351.5" stroke="#000" stroke-width="1.0" />
<line x1="211.7" y1="281.3" x2="211.7" y2="351.5" stroke="#666" stroke-width="1.8" />
<line x1="214.3" y1="281.3" x2="214.3" y2="351.5" stroke="#000" stroke-width="0.9" />
<line x1="109.3" y1="281.3" x2="109.3" y2="351.4" stroke="#000" stroke-width="1.1" />
<line x1="228.7" y1="281.1" x2="228.7" y2="353" stroke="#000" stroke-width="1.1" />
<line x1="140" y1="372.4" x2="195.6" y2="372.4" stroke="#000" stroke-width="1.1" />
<path d="M118.7,267.4 L132.4,267.4 L132.4,272 L121.6,279.4 L118.7,279.4 Z" stroke="#000" stroke-width="1.05" fill="url(#hx1)" />
<path d="M118.7,267.4 L132.4,267.4 L132.4,272 L121.6,279.4 L118.7,279.4 Z" stroke="none" stroke-width="0" fill="url(#hx2)" />
<path d="M118.7,267.4 L132.4,267.4 L132.4,272 L121.6,279.4 L118.7,279.4 Z" stroke="#000" stroke-width="1.05" fill="none" />
<path d="M202.2,267.4 L215.9,267.4 L215.9,279.4 L212.8,279.4 L202.2,272 Z" stroke="#000" stroke-width="1.05" fill="url(#hx1)" />
<path d="M202.2,267.4 L215.9,267.4 L215.9,279.4 L212.8,279.4 L202.2,272 Z" stroke="none" stroke-width="0" fill="url(#hx2)" />
<path d="M202.2,267.4 L215.9,267.4 L215.9,279.4 L212.8,279.4 L202.2,272 Z" stroke="#000" stroke-width="1.05" fill="none" />
<path d="M118.7,353.2 L121.6,353.2 L132.4,360.6 L132.4,364.7 L118.7,364.7 Z" stroke="#000" stroke-width="1.05" fill="url(#hx1)" />
<path d="M118.7,353.2 L121.6,353.2 L132.4,360.6 L132.4,364.7 L118.7,364.7 Z" stroke="none" stroke-width="0" fill="url(#hx2)" />
<path d="M118.7,353.2 L121.6,353.2 L132.4,360.6 L132.4,364.7 L118.7,364.7 Z" stroke="#000" stroke-width="1.05" fill="none" />
<path d="M212.8,353.2 L216.5,353.2 L216.5,364.5 L202.2,364.5 L202.2,360.6 Z" stroke="#000" stroke-width="1.05" fill="url(#hx1)" />
<path d="M212.8,353.2 L216.5,353.2 L216.5,364.5 L202.2,364.5 L202.2,360.6 Z" stroke="none" stroke-width="0" fill="url(#hx2)" />
<path d="M212.8,353.2 L216.5,353.2 L216.5,364.5 L202.2,364.5 L202.2,360.6 Z" stroke="#000" stroke-width="1.05" fill="none" />
<path d="M152.8,171.3 L181.4,171.3 L181.4,183 L184.6,187.2 L184.6,249.4 L195.1,249.4 L195.1,255.6 L175.1,255.6 L175.1,276.1 L159.2,276.1 L159.2,255.6 L139.6,255.6 L139.6,249.4 L150.2,249.4 L150.2,187.2 L152.8,183 Z" stroke="#000" stroke-width="1.2" fill="#fff" />
<line x1="150.2" y1="187.2" x2="184.6" y2="187.2" stroke="#000" stroke-width="1.1" />
<line x1="152.8" y1="183" x2="181.4" y2="183" stroke="#000" stroke-width="1.1" />
<line x1="154.4" y1="171.3" x2="154.4" y2="183" stroke="#444" stroke-width="0.8" />
<line x1="180.2" y1="171.3" x2="180.2" y2="183" stroke="#444" stroke-width="0.8" />
<line x1="159.2" y1="272.5" x2="175.1" y2="272.5" stroke="#000" stroke-width="1.0" />
<line x1="150.2" y1="249.4" x2="184.6" y2="249.4" stroke="#000" stroke-width="1.1" />
<rect x="150.2" y="229.4" width="34.4" height="3.4" fill="#fff" stroke="#000" stroke-width="1.1"/>
<rect x="150.2" y="229.2" width="2.6" height="3.8" fill="#000"/>
<rect x="182" y="229.2" width="2.6" height="3.8" fill="#000"/>
<line x1="150.2" y1="244.5" x2="184.6" y2="244.5" stroke="#000" stroke-width="0" />
<rect x="139.6" y="244.5" width="10.5" height="4.9" fill="#fff" stroke="#000" stroke-width="1.2"/>
<line x1="140.0" y1="245" x2="144.45" y2="248.9" stroke="#000" stroke-width="0.7" />
<line x1="140.0" y1="248.9" x2="144.45" y2="245" stroke="#000" stroke-width="0.7" />
<line x1="145.25" y1="245" x2="149.7" y2="248.9" stroke="#000" stroke-width="0.7" />
<line x1="145.25" y1="248.9" x2="149.7" y2="245" stroke="#000" stroke-width="0.7" />
<rect x="184.6" y="244.5" width="10.5" height="4.9" fill="#fff" stroke="#000" stroke-width="1.2"/>
<line x1="185.0" y1="245" x2="189.45" y2="248.9" stroke="#000" stroke-width="0.7" />
<line x1="185.0" y1="248.9" x2="189.45" y2="245" stroke="#000" stroke-width="0.7" />
<line x1="190.25" y1="245" x2="194.7" y2="248.9" stroke="#000" stroke-width="0.7" />
<line x1="190.25" y1="248.9" x2="194.7" y2="245" stroke="#000" stroke-width="0.7" />
<path d="M139.4,178.4 L150.20000000000002,178.4 L150.20000000000002,201 L139.4,201 Z" stroke="#000" stroke-width="1.2" fill="url(#hf)" />
<path d="M184.4,178.4 L195.20000000000002,178.4 L195.20000000000002,201 L184.4,201 Z" stroke="#000" stroke-width="1.2" fill="url(#hf)" />
<rect x="139.4" y="201" width="10.8" height="8.3" fill="#fff" stroke="#000" stroke-width="1.2"/>
<circle cx="141.3" cy="203.2" r="1.5" fill="none" stroke="#000" stroke-width="0.9"/>
<circle cx="144.8" cy="203.2" r="1.5" fill="none" stroke="#000" stroke-width="0.9"/>
<circle cx="148.3" cy="203.2" r="1.5" fill="none" stroke="#000" stroke-width="0.9"/>
<circle cx="141.3" cy="207.0" r="1.5" fill="none" stroke="#000" stroke-width="0.9"/>
<circle cx="144.8" cy="207.0" r="1.5" fill="none" stroke="#000" stroke-width="0.9"/>
<circle cx="148.3" cy="207.0" r="1.5" fill="none" stroke="#000" stroke-width="0.9"/>
<rect x="184.4" y="201" width="10.8" height="8.3" fill="#fff" stroke="#000" stroke-width="1.2"/>
<circle cx="186.3" cy="203.2" r="1.5" fill="none" stroke="#000" stroke-width="0.9"/>
<circle cx="189.8" cy="203.2" r="1.5" fill="none" stroke="#000" stroke-width="0.9"/>
<circle cx="193.3" cy="203.2" r="1.5" fill="none" stroke="#000" stroke-width="0.9"/>
<circle cx="186.3" cy="207.0" r="1.5" fill="none" stroke="#000" stroke-width="0.9"/>
<circle cx="189.8" cy="207.0" r="1.5" fill="none" stroke="#000" stroke-width="0.9"/>
<circle cx="193.3" cy="207.0" r="1.5" fill="none" stroke="#000" stroke-width="0.9"/>
<rect x="132.4" y="171.6" width="20.2" height="7" fill="#fff" stroke="#000" stroke-width="1.2"/>
<line x1="132.4" y1="173.6" x2="152.6" y2="173.6" stroke="#000" stroke-width="1.1" stroke-dasharray="2.2,1.2"/>
<line x1="132.4" y1="176.8" x2="152.6" y2="176.8" stroke="#000" stroke-width="1.1" stroke-dasharray="2.2,1.2"/>
<line x1="135.4" y1="174.6" x2="151.4" y2="175.4" stroke="#000" stroke-width="0.8" />
<line x1="135.4" y1="176" x2="151.4" y2="175.4" stroke="#000" stroke-width="0.8" />
<rect x="181.4" y="171.6" width="20.2" height="7" fill="#fff" stroke="#000" stroke-width="1.2"/>
<line x1="181.4" y1="173.6" x2="201.6" y2="173.6" stroke="#000" stroke-width="1.1" stroke-dasharray="2.2,1.2"/>
<line x1="181.4" y1="176.8" x2="201.6" y2="176.8" stroke="#000" stroke-width="1.1" stroke-dasharray="2.2,1.2"/>
<line x1="182.4" y1="175.4" x2="198.4" y2="174.6" stroke="#000" stroke-width="0.8" />
<line x1="182.4" y1="175.4" x2="198.4" y2="176" stroke="#000" stroke-width="0.8" />
<rect x="206" y="174.6" width="8.4" height="17.6" fill="#fff" stroke="#000" stroke-width="1.1"/>
<line x1="206" y1="177.2" x2="214.4" y2="177.2" stroke="#333" stroke-width="0.8" />
<line x1="206" y1="179.79999999999998" x2="214.4" y2="179.79999999999998" stroke="#333" stroke-width="0.8" />
<line x1="206" y1="182.39999999999998" x2="214.4" y2="182.39999999999998" stroke="#333" stroke-width="0.8" />
<line x1="206" y1="185.0" x2="214.4" y2="185.0" stroke="#333" stroke-width="0.8" />
<line x1="206" y1="187.6" x2="214.4" y2="187.6" stroke="#333" stroke-width="0.8" />
<line x1="206" y1="190.2" x2="214.4" y2="190.2" stroke="#333" stroke-width="0.8" />
<line x1="195.8" y1="178.4" x2="195.8" y2="192" stroke="#000" stroke-width="0.9" />
<line x1="204.8" y1="178.4" x2="204.8" y2="192" stroke="#000" stroke-width="0.9" />
<line x1="195.8" y1="178.4" x2="204.8" y2="178.4" stroke="#000" stroke-width="0.9" />
<rect x="116" y="164.4" width="102.4" height="7" fill="#fff" stroke="#000" stroke-width="1.1"/>
<circle cx="170.4" cy="264.8" r="4.8" fill="#fff" stroke="#000" stroke-width="0.8" stroke-dasharray="1.2,0.8"/>
<circle cx="170.6" cy="264.8" r="3.4" fill="none" stroke="#000" stroke-width="2.2"/>
<circle cx="171.6" cy="264.8" r="1.7" fill="#fff" stroke="#000" stroke-width="0.9"/>
<path d="M195.1,254.5 L218,254.5 L218,255.2 L221.4,255.2 L221.4,242.1 L228.8,242.1 L228.8,281.5 L216.3,281.5 L216.3,267.5 L203,267.5 L195.1,259 Z" stroke="#000" stroke-width="1.1" fill="url(#hc)" />
<rect x="195.8" y="255.8" width="22.2" height="3.1" fill="#c8c8c8" stroke="none"/>
<line x1="195.1" y1="259" x2="218" y2="259" stroke="#000" stroke-width="1.0" />
<rect x="220.4" y="258.2" width="8.4" height="10.6" fill="#fff" stroke="#000" stroke-width="1.1"/>
<line x1="220.4" y1="263.6" x2="228.8" y2="263.6" stroke="#999" stroke-width="1.4" />
<rect x="221.4" y="242.1" width="7.4" height="16.1" fill="none" stroke="#000" stroke-width="1.2"/>
<rect x="218" y="247.2" width="3.4" height="8" fill="#fff" stroke="#000" stroke-width="1.1"/>
<rect x="218.6" y="248.4" width="2.2" height="2.2" fill="#000"/><rect x="218.6" y="251.8" width="2.2" height="2.2" fill="#000"/>
<line x1="216.3" y1="268.8" x2="228.8" y2="268.8" stroke="#000" stroke-width="1.0" />
<path d="M202.7,364.3 L216.8,364.3 L216.8,353 L228.6,353 L228.6,389.3 L221.4,389.3 L221.4,377 L218.2,377 L218.2,373.2 L195.6,373.2 Z" stroke="#000" stroke-width="1.1" fill="url(#hc)" />
<rect x="195.6" y="373.2" width="22.6" height="3.8" fill="#fff" stroke="#000" stroke-width="1.1"/>
<line x1="204.6" y1="364.3" x2="197.6" y2="373.2" stroke="#777" stroke-width="0.7" />
<rect x="218.2" y="377" width="3.2" height="7" fill="#fff" stroke="#000" stroke-width="1.1"/>
<rect x="218.8" y="378.2" width="2" height="2" fill="#000"/>
<line x1="221.4" y1="362.8" x2="228.6" y2="362.8" stroke="#999" stroke-width="1.3" />
<line x1="221.4" y1="368" x2="228.6" y2="368" stroke="#999" stroke-width="1.3" />
<line x1="222.4" y1="362.8" x2="222.4" y2="373.2" stroke="#000" stroke-width="1.0" />
<path d="M351.7,98.4 L274,98.4 Q268,98.4 264,102.4 L231,135.4 Q227,139.4 221,139.4 L113.4,139.4" stroke="#000" stroke-width="1.2" fill="none" />
<path d="M351.7,109.5 L279,109.5 Q273,109.5 269,113.5 L236,146.5 Q232,150.7 226,150.7 L113.4,150.7" stroke="#000" stroke-width="1.2" fill="none" />
<line x1="113.4" y1="139.4" x2="113.4" y2="150.7" stroke="#000" stroke-width="1.2" />
<line x1="124.4" y1="139.4" x2="124.4" y2="150.7" stroke="#000" stroke-width="1.2" />
<rect x="351.7" y="95.2" width="130.2" height="17.1" fill="#fff" stroke="#000" stroke-width="1.2"/>
<line x1="357.1" y1="95.2" x2="357.1" y2="112.3" stroke="#000" stroke-width="1.2" />
<line x1="385.2" y1="95.2" x2="385.2" y2="112.3" stroke="#000" stroke-width="1.2" />
<line x1="448.8" y1="95.2" x2="448.8" y2="112.3" stroke="#000" stroke-width="1.2" />
<line x1="476.5" y1="95.2" x2="476.5" y2="112.3" stroke="#000" stroke-width="1.2" />
<path d="M141,128.6 Q154.2,123.0 167.4,128.2 Q180.25,123.0 193.1,128.6 L193.1,136.39999999999998 Q180.25,142.0 167.4,136.79999999999998 Q154.2,142.0 141,136.39999999999998 Z" stroke="#000" stroke-width="1.2" fill="#fff" />
<line x1="148" y1="125.8" x2="186.5" y2="125.8" stroke="#000" stroke-width="1.0" />
<line x1="148" y1="139.2" x2="186.5" y2="139.2" stroke="#000" stroke-width="1.0" />
<path d="M141,153.5 Q154.2,147.89999999999998 167.4,153.1 Q180.25,147.89999999999998 193.1,153.5 L193.1,161.39999999999998 Q180.25,167.0 167.4,161.79999999999998 Q154.2,167.0 141,161.39999999999998 Z" stroke="#000" stroke-width="1.2" fill="#fff" />
<line x1="148" y1="150.7" x2="186.5" y2="150.7" stroke="#000" stroke-width="1.0" />
<line x1="148" y1="164.2" x2="186.5" y2="164.2" stroke="#000" stroke-width="1.0" />
<line x1="167.2" y1="121" x2="167.2" y2="178" stroke="#000" stroke-width="0.9" />
<line x1="167.2" y1="187" x2="167.2" y2="196" stroke="#000" stroke-width="0.9" />
<line x1="167.2" y1="204.1" x2="167.2" y2="322.6" stroke="#000" stroke-width="0.9" />
<line x1="167.2" y1="331.1" x2="167.2" y2="340.4" stroke="#000" stroke-width="0.9" />
<line x1="167.2" y1="348.2" x2="167.2" y2="400.4" stroke="#000" stroke-width="0.9" />
<line x1="167.2" y1="410.7" x2="167.2" y2="420" stroke="#000" stroke-width="0.9" />
<line x1="167.2" y1="427.5" x2="167.2" y2="478.3" stroke="#000" stroke-width="0.9" />
<line x1="99" y1="316.4" x2="167.4" y2="316.4" stroke="#000" stroke-width="0.9" />
<line x1="181" y1="316.4" x2="236.6" y2="316.4" stroke="#000" stroke-width="0.9" />
<line x1="63.6" y1="433.2" x2="105.6" y2="433.2" stroke="#000" stroke-width="0.9" />
<line x1="108" y1="433.2" x2="114.7" y2="433.2" stroke="#000" stroke-width="0.9" />
<line x1="136.3" y1="433.2" x2="169.2" y2="433.2" stroke="#000" stroke-width="0.9" />
<line x1="177.6" y1="433.2" x2="187.2" y2="433.2" stroke="#000" stroke-width="0.9" />
<line x1="195.6" y1="433.2" x2="230.4" y2="433.2" stroke="#000" stroke-width="0.9" />
<line x1="79.3" y1="222.1" x2="109.3" y2="222.1" stroke="#000" stroke-width="1" />
<line x1="79.3" y1="410.5" x2="108.4" y2="410.5" stroke="#000" stroke-width="1" />
<line x1="83.1" y1="222.1" x2="83.1" y2="410.5" stroke="#555" stroke-width="1" />
<path d="M83.1,222.1 L84.40,229.10 L81.80,229.10 Z" fill="#000"/>
<path d="M83.1,410.5 L81.80,403.50 L84.40,403.50 Z" fill="#000"/>
<line x1="93.2" y1="281.3" x2="120" y2="281.3" stroke="#000" stroke-width="1" />
<line x1="93.2" y1="350.4" x2="120" y2="350.4" stroke="#000" stroke-width="1" />
<line x1="97.1" y1="281.3" x2="97.1" y2="350.4" stroke="#555" stroke-width="1" />
<path d="M97.1,281.3 L98.40,288.30 L95.80,288.30 Z" fill="#000"/>
<path d="M97.1,350.4 L95.80,343.40 L98.40,343.40 Z" fill="#000"/>
<line x1="67.3" y1="312.1" x2="67.3" y2="433" stroke="#000" stroke-width="1" />
<path d="M67.3,433 L66.00,426.00 L68.60,426.00 Z" fill="#000"/>
<line x1="54.5" y1="315.9" x2="54.5" y2="468.1" stroke="#000" stroke-width="1" />
<line x1="51" y1="468.1" x2="112.2" y2="468.1" stroke="#000" stroke-width="1" />
<path d="M54.5,468.1 L53.20,461.10 L55.80,461.10 Z" fill="#000"/>
<text x="0" y="0" font-family='"Liberation Sans", sans-serif' font-size="10.3" text-anchor="middle" transform="translate(52.9,320.15) rotate(-90) scale(0.64,1)" >D</text>
<text x="0" y="0" font-family='"Liberation Sans", sans-serif' font-size="10.3" text-anchor="middle" transform="translate(65.7,321.9) rotate(-90) scale(0.64,1)" >D</text>
<text x="0" y="0" font-family='"Liberation Sans", sans-serif' font-size="7.4" text-anchor="middle" transform="translate(67.9,315.8) rotate(-90) scale(0.85,1)" >2</text>
<text x="0" y="0" font-family='"Liberation Sans", sans-serif' font-size="10.3" text-anchor="middle" transform="translate(82.1,318.4) rotate(-90) scale(0.64,1)" >D</text>
<text x="0" y="0" font-family='"Liberation Sans", sans-serif' font-size="6.6" text-anchor="middle" transform="translate(83.3,313.6) rotate(-90) scale(0.9,1)" >1</text>
<text x="0" y="0" font-family='"Liberation Sans", sans-serif' font-size="10.3" text-anchor="middle" transform="translate(96.2,316.4) rotate(-90) scale(0.85,1)" >d</text>
<line x1="131.6" y1="419.2" x2="131.6" y2="447.7" stroke="#000" stroke-width="1" />
<path d="M131.6,419.2 L132.90,425.20 L130.30,425.20 Z" fill="#000"/>
<path d="M131.6,447.7 L130.30,441.70 L132.90,441.70 Z" fill="#000"/>
<g transform="translate(129.3,434.1) rotate(-90)">
<path d="M-8.80,0.00 L-8.80,-5.80 L-4.14,0.00 L-4.14,-5.80 M-1.98,-2.90 L1.52,-2.90 M3.67,0.00 L3.67,-5.80 L6.24,-2.51 L8.80,-5.80 L8.80,0.00" stroke="#000" stroke-width="0.85" fill="none" stroke-linejoin="round" stroke-linecap="round"/>
</g>
<line x1="109.3" y1="410.5" x2="109.3" y2="494" stroke="#000" stroke-width="1" />
<line x1="228.8" y1="389" x2="228.8" y2="494" stroke="#000" stroke-width="1" />
<line x1="109.3" y1="491.3" x2="228.8" y2="491.3" stroke="#000" stroke-width="1" />
<path d="M109.3,491.3 L116.30,490.00 L116.30,492.60 Z" fill="#000"/>
<path d="M228.8,491.3 L221.80,492.60 L221.80,490.00 Z" fill="#000"/>
<text x="168.5" y="489.5" font-family='"Liberation Serif", serif' font-size="9.6" text-anchor="middle" fill="#000" textLength="6" lengthAdjust="spacingAndGlyphs" >L</text>
<line x1="224.3" y1="468" x2="224.3" y2="485.6" stroke="#000" stroke-width="1" />
<line x1="210.4" y1="482.2" x2="258" y2="482.2" stroke="#000" stroke-width="1" />
<path d="M224.3,482.2 L218.30,483.50 L218.30,480.90 Z" fill="#000"/>
<path d="M228.8,482.2 L234.80,480.90 L234.80,483.50 Z" fill="#000"/>
<text x="249.6" y="480.6" font-family='"Liberation Serif", serif' font-size="11" text-anchor="middle" fill="#000" textLength="15" lengthAdjust="spacingAndGlyphs" >1.6</text>
<path d="M251.6,121.2 L273,130 L296.2,130" stroke="#111" stroke-width="1.0" fill="none" />
<text x="286.3" y="127.7" font-family='"Liberation Serif", serif' font-size="15.4" text-anchor="middle" fill="#222" textLength="13.2" lengthAdjust="spacingAndGlyphs" >16</text>
<path d="M187.4,132.8 L273,153 L296.2,153" stroke="#111" stroke-width="1.0" fill="none" />
<text x="286.3" y="150.7" font-family='"Liberation Serif", serif' font-size="15.4" text-anchor="middle" fill="#222" textLength="13.2" lengthAdjust="spacingAndGlyphs" >15</text>
<path d="M213.4,167.1 L273,175 L296.2,175" stroke="#111" stroke-width="1.0" fill="none" />
<text x="286.3" y="172.7" font-family='"Liberation Serif", serif' font-size="15.4" text-anchor="middle" fill="#222" textLength="13.2" lengthAdjust="spacingAndGlyphs" >14</text>
<path d="M214,175.2 L273,197 L296.2,197" stroke="#111" stroke-width="1.0" fill="none" />
<text x="286.3" y="194.7" font-family='"Liberation Serif", serif' font-size="15.4" text-anchor="middle" fill="#222" textLength="13.2" lengthAdjust="spacingAndGlyphs" >13</text>
<path d="M197,179 L273,219 L296.2,219" stroke="#111" stroke-width="1.0" fill="none" />
<text x="286.3" y="216.7" font-family='"Liberation Serif", serif' font-size="15.4" text-anchor="middle" fill="#222" textLength="13.2" lengthAdjust="spacingAndGlyphs" >12</text>
<path d="M190,184.2 L273,241 L296.2,241" stroke="#111" stroke-width="1.0" fill="none" />
<text x="286.3" y="238.7" font-family='"Liberation Serif", serif' font-size="15.4" text-anchor="middle" fill="#222" textLength="13.2" lengthAdjust="spacingAndGlyphs" >11</text>
<path d="M192,208.5 L273,263 L296.2,263" stroke="#111" stroke-width="1.0" fill="none" />
<text x="286.3" y="260.7" font-family='"Liberation Serif", serif' font-size="15.4" text-anchor="middle" fill="#222" textLength="13.2" lengthAdjust="spacingAndGlyphs" >10</text>
<path d="M183,233 L273,285 L296.2,285" stroke="#111" stroke-width="1.0" fill="none" />
<text x="285.1" y="282.7" font-family='"Liberation Serif", serif' font-size="15.4" text-anchor="middle" fill="#222" textLength="6.2" lengthAdjust="spacingAndGlyphs" >9</text>
<path d="M190,247 L273,307 L296.2,307" stroke="#111" stroke-width="1.0" fill="none" />
<text x="285.1" y="304.7" font-family='"Liberation Serif", serif' font-size="15.4" text-anchor="middle" fill="#222" textLength="6.2" lengthAdjust="spacingAndGlyphs" >8</text>
<path d="M175,257 L273,329 L296.2,329" stroke="#111" stroke-width="1.0" fill="none" />
<text x="285.1" y="326.7" font-family='"Liberation Serif", serif' font-size="15.4" text-anchor="middle" fill="#222" textLength="6.2" lengthAdjust="spacingAndGlyphs" >7</text>
<path d="M172,264.6 L273,352 L296.2,352" stroke="#111" stroke-width="1.0" fill="none" />
<text x="285.1" y="349.7" font-family='"Liberation Serif", serif' font-size="15.4" text-anchor="middle" fill="#222" textLength="6.2" lengthAdjust="spacingAndGlyphs" >6</text>
<path d="M183,277.3 L273,374 L296.2,374" stroke="#111" stroke-width="1.0" fill="none" />
<text x="285.1" y="371.7" font-family='"Liberation Serif", serif' font-size="15.4" text-anchor="middle" fill="#222" textLength="6.2" lengthAdjust="spacingAndGlyphs" >5</text>
<path d="M218,362 L273,396 L296.2,396" stroke="#111" stroke-width="1.0" fill="none" />
<text x="285.1" y="393.7" font-family='"Liberation Serif", serif' font-size="15.4" text-anchor="middle" fill="#222" textLength="6.2" lengthAdjust="spacingAndGlyphs" >4</text>
<path d="M222.3,377.9 L273,418 L296.2,418" stroke="#111" stroke-width="1.0" fill="none" />
<text x="285.1" y="415.7" font-family='"Liberation Serif", serif' font-size="15.4" text-anchor="middle" fill="#222" textLength="6.2" lengthAdjust="spacingAndGlyphs" >3</text>
<path d="M221.4,384.5 L273,440 L296.2,440" stroke="#111" stroke-width="1.0" fill="none" />
<text x="285.1" y="437.7" font-family='"Liberation Serif", serif' font-size="15.4" text-anchor="middle" fill="#222" textLength="6.2" lengthAdjust="spacingAndGlyphs" >2</text>
<path d="M211,409 L273,462 L296.2,462" stroke="#111" stroke-width="1.0" fill="none" />
<text x="285.1" y="459.7" font-family='"Liberation Serif", serif' font-size="15.4" text-anchor="middle" fill="#222" textLength="6.2" lengthAdjust="spacingAndGlyphs" >1</text>
</svg></body></html>
